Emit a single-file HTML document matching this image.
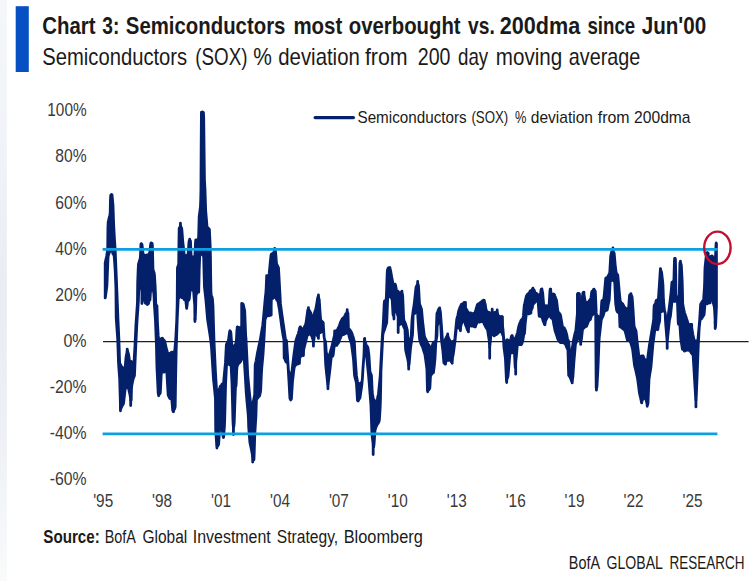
<!DOCTYPE html>
<html lang="en"><head><meta charset="utf-8"><title>Chart 3: Semiconductors most overbought vs. 200dma since Jun'00</title>
<style>
html,body{margin:0;padding:0;background:#fff;}
body{width:755px;height:581px;overflow:hidden;font-family:"Liberation Sans",sans-serif;}
svg{display:block}
text{font-family:"Liberation Sans",sans-serif;fill:#1a1a1a}
.ax text{font-size:17.8px;fill:#3a3a3a}
</style></head><body>
<svg width="755" height="581" viewBox="0 0 755 581">
<rect x="0" y="0" width="755" height="581" fill="#ffffff"/>
<defs><linearGradient id="lb" x1="0" y1="0" x2="0" y2="1"><stop offset="0" stop-color="#f5f6f9"/><stop offset="0.25" stop-color="#f2f3f8"/><stop offset="0.5" stop-color="#e9ecf1"/><stop offset="0.75" stop-color="#eff0f5"/><stop offset="1" stop-color="#f9fafa"/></linearGradient></defs>
<rect x="0" y="0" width="6.9" height="581" fill="url(#lb)"/>
<rect x="15.7" y="6.2" width="13.1" height="65.8" fill="#0650c4"/>
<text x="42.3" y="33.5" font-size="24.5" font-weight="bold" fill="#000" textLength="53.3" lengthAdjust="spacingAndGlyphs">Chart</text><text x="102.2" y="33.5" font-size="24.5" font-weight="bold" fill="#000" textLength="17.1" lengthAdjust="spacingAndGlyphs">3:</text><text x="125.8" y="33.5" font-size="24.5" font-weight="bold" fill="#000" textLength="159.6" lengthAdjust="spacingAndGlyphs">Semiconductors</text><text x="293.4" y="33.5" font-size="24.5" font-weight="bold" fill="#000" textLength="48.8" lengthAdjust="spacingAndGlyphs">most</text><text x="348.8" y="33.5" font-size="24.5" font-weight="bold" fill="#000" textLength="111.8" lengthAdjust="spacingAndGlyphs">overbought</text><text x="468.1" y="33.5" font-size="24.5" font-weight="bold" fill="#000" textLength="26.7" lengthAdjust="spacingAndGlyphs">vs.</text><text x="499.8" y="33.5" font-size="24.5" font-weight="bold" fill="#000" textLength="80.5" lengthAdjust="spacingAndGlyphs">200dma</text><text x="587.4" y="33.5" font-size="24.5" font-weight="bold" fill="#000" textLength="47.8" lengthAdjust="spacingAndGlyphs">since</text><text x="641.7" y="33.5" font-size="24.5" font-weight="bold" fill="#000" textLength="64.5" lengthAdjust="spacingAndGlyphs">Jun'00</text>
<text x="42.3" y="65" font-size="24" fill="#262626" textLength="144.9" lengthAdjust="spacingAndGlyphs">Semiconductors</text><text x="195.3" y="65" font-size="24" fill="#262626" textLength="52.3" lengthAdjust="spacingAndGlyphs">(SOX)</text><text x="253.2" y="65" font-size="24" fill="#262626" textLength="18.6" lengthAdjust="spacingAndGlyphs">%</text><text x="278.3" y="65" font-size="24" fill="#262626" textLength="81.5" lengthAdjust="spacingAndGlyphs">deviation</text><text x="364.9" y="65" font-size="24" fill="#262626" textLength="42.8" lengthAdjust="spacingAndGlyphs">from</text><text x="417.8" y="65" font-size="24" fill="#262626" textLength="32.7" lengthAdjust="spacingAndGlyphs">200</text><text x="458.0" y="65" font-size="24" fill="#262626" textLength="30.2" lengthAdjust="spacingAndGlyphs">day</text><text x="495.8" y="65" font-size="24" fill="#262626" textLength="66.4" lengthAdjust="spacingAndGlyphs">moving</text><text x="568.8" y="65" font-size="24" fill="#262626" textLength="71.4" lengthAdjust="spacingAndGlyphs">average</text>
<g class="ax"><text x="47.3" y="116.3" textLength="39.3" lengthAdjust="spacingAndGlyphs">100%</text><text x="55.2" y="162.4" textLength="31.4" lengthAdjust="spacingAndGlyphs">80%</text><text x="55.2" y="208.5" textLength="31.4" lengthAdjust="spacingAndGlyphs">60%</text><text x="55.2" y="254.6" textLength="31.4" lengthAdjust="spacingAndGlyphs">40%</text><text x="55.2" y="300.7" textLength="31.4" lengthAdjust="spacingAndGlyphs">20%</text><text x="63.4" y="346.8" textLength="23.2" lengthAdjust="spacingAndGlyphs">0%</text><text x="49.8" y="392.9" textLength="36.8" lengthAdjust="spacingAndGlyphs">-20%</text><text x="49.8" y="439.0" textLength="36.8" lengthAdjust="spacingAndGlyphs">-40%</text><text x="49.8" y="485.1" textLength="36.8" lengthAdjust="spacingAndGlyphs">-60%</text><text x="93.2" y="507.4" textLength="20" lengthAdjust="spacingAndGlyphs">'95</text><text x="152.1" y="507.4" textLength="20" lengthAdjust="spacingAndGlyphs">'98</text><text x="211.1" y="507.4" textLength="20" lengthAdjust="spacingAndGlyphs">'01</text><text x="270.0" y="507.4" textLength="20" lengthAdjust="spacingAndGlyphs">'04</text><text x="328.9" y="507.4" textLength="20" lengthAdjust="spacingAndGlyphs">'07</text><text x="387.8" y="507.4" textLength="20" lengthAdjust="spacingAndGlyphs">'10</text><text x="446.8" y="507.4" textLength="20" lengthAdjust="spacingAndGlyphs">'13</text><text x="505.7" y="507.4" textLength="20" lengthAdjust="spacingAndGlyphs">'16</text><text x="564.6" y="507.4" textLength="20" lengthAdjust="spacingAndGlyphs">'19</text><text x="623.6" y="507.4" textLength="20" lengthAdjust="spacingAndGlyphs">'22</text><text x="682.5" y="507.4" textLength="20" lengthAdjust="spacingAndGlyphs">'25</text></g>
<line x1="103" y1="341.6" x2="748.6" y2="341.6" stroke="#1f1f1f" stroke-width="1.4"/>
<path d="M105.19,262.9L105.44,261.7L105.69,260.5L105.94,259.4L106.19,258.2L106.44,257.1L106.69,255.8L106.94,254.2L107.19,252.6L107.44,251.1L107.69,249.5L107.94,227.2L108.19,222.1L108.44,221.1L108.69,220.0L108.94,218.9L109.19,217.9L109.44,216.9L109.69,216.0L109.94,215.1L110.19,212.7L110.44,200.8L110.69,195.3L110.94,195.0L111.19,194.7L111.44,194.5L111.69,194.5L111.94,194.7L112.19,196.5L112.44,199.3L112.69,202.1L112.94,204.9L113.19,211.0L113.44,218.6L113.69,225.3L113.94,229.9L114.19,234.5L114.44,239.0L114.69,243.2L114.94,246.6L115.19,250.0L115.44,256.2L115.69,262.5L115.94,268.8L116.19,274.9L116.44,280.9L116.69,287.0L116.94,293.0L117.19,299.4L117.44,305.9L117.69,312.4L117.94,318.9L118.19,324.5L118.44,329.9L118.69,335.3L118.94,340.6L119.19,349.1L119.44,358.1L119.69,363.3L119.94,363.8L120.19,364.2L120.44,364.6L120.69,365.0L120.94,365.5L121.19,366.1L121.44,366.7L121.69,367.2L121.94,367.8L122.19,368.3L122.44,368.3L122.69,368.4L122.94,368.3L123.19,368.2L123.44,368.0L123.69,368.1L123.94,368.2L124.19,368.2L124.44,368.2L124.69,368.1L124.94,367.9L125.19,366.6L125.44,363.8L125.69,361.0L125.94,358.2L126.19,356.3L126.44,355.1L126.69,353.9L126.94,352.7L127.19,351.5L127.44,350.7L127.69,351.5L127.94,352.3L128.19,353.1L128.44,353.9L128.69,355.3L128.94,357.0L129.19,358.6L129.44,360.2L129.69,361.0L129.94,361.5L130.19,361.4L130.44,361.4L130.69,361.4L130.94,361.4L131.19,361.3L131.44,361.6L131.69,362.0L131.94,362.3L132.19,362.6L132.44,362.8L132.69,362.9L132.94,363.0L133.19,363.1L133.44,363.1L133.69,363.0L133.94,362.7L134.19,359.4L134.44,355.1L134.69,350.8L134.94,346.5L135.19,341.1L135.44,335.7L135.69,330.4L135.94,325.0L136.19,321.1L136.44,317.5L136.69,313.9L136.94,310.2L137.19,306.5L137.44,302.9L137.69,282.6L137.94,275.9L138.19,269.2L138.44,264.2L138.69,263.4L138.94,262.6L139.19,261.8L139.44,261.0L139.69,260.1L139.94,259.3L140.19,258.5L140.44,256.0L140.69,250.0L140.94,244.1L141.19,243.6L141.44,243.8L141.69,244.1L141.94,244.5L142.19,246.2L142.44,248.5L142.69,250.9L142.94,253.2L143.19,254.1L143.44,254.4L143.69,254.5L143.94,254.7L144.19,254.8L144.44,255.0L144.69,255.2L144.94,255.4L145.19,255.6L145.44,255.7L145.69,255.7L145.94,255.6L146.19,255.5L146.44,255.3L146.69,255.1L146.94,255.0L147.19,254.9L147.44,254.9L147.69,254.9L147.94,254.9L148.19,254.9L148.44,254.6L148.69,254.4L148.94,254.2L149.19,254.0L149.44,253.6L149.69,252.0L149.94,250.0L150.19,248.1L150.44,246.1L150.69,244.2L150.94,243.0L151.19,242.9L151.44,242.8L151.69,243.1L151.94,243.5L152.19,243.7L152.44,247.1L152.69,258.0L152.94,268.8L153.19,270.2L153.44,270.9L153.69,271.6L153.94,272.4L154.19,273.2L154.44,275.2L154.69,279.2L154.94,283.2L155.19,287.2L155.44,293.5L155.69,303.4L155.94,304.5L156.19,305.0L156.44,305.3L156.69,305.5L156.94,305.7L157.19,313.6L157.44,322.5L157.69,326.9L157.94,331.3L158.19,335.7L158.44,337.9L158.69,338.3L158.94,338.5L159.19,338.6L159.44,338.8L159.69,338.8L159.94,338.8L160.19,338.9L160.44,338.9L160.69,338.9L160.94,338.9L161.19,338.9L161.44,338.7L161.69,338.5L161.94,338.3L162.19,338.1L162.44,338.3L162.69,338.7L162.94,339.1L163.19,339.6L163.44,340.0L163.69,340.4L163.94,340.5L164.19,340.5L164.44,340.8L164.69,341.5L164.94,342.3L165.19,343.3L165.44,344.5L165.69,345.7L165.94,346.9L166.19,348.1L166.44,349.2L166.69,349.9L166.94,350.7L167.19,351.5L167.44,352.2L167.69,352.9L167.94,353.3L168.19,353.5L168.44,353.6L168.69,353.7L168.94,353.7L169.19,353.7L169.44,353.8L169.69,353.7L169.94,353.6L170.19,353.5L170.44,353.3L170.69,353.0L170.94,352.8L171.19,352.6L171.44,352.3L171.69,352.1L171.94,352.2L172.19,352.3L172.44,352.4L172.69,352.5L172.94,352.5L173.19,352.4L173.44,352.3L173.69,352.1L173.94,351.9L174.19,351.6L174.44,351.5L174.69,351.1L174.94,348.7L175.19,345.7L175.44,342.8L175.69,340.0L175.94,335.5L176.19,330.8L176.44,326.0L176.69,321.2L176.94,313.3L177.19,304.9L177.44,267.9L177.69,267.1L177.94,266.3L178.19,265.6L178.44,264.9L178.69,264.2L178.94,243.1L179.19,228.3L179.44,227.8L179.69,227.4L179.94,226.9L180.19,226.4L180.44,225.9L180.69,226.6L180.94,227.1L181.19,227.5L181.44,228.0L181.69,228.5L181.94,231.0L182.19,234.2L182.44,237.5L182.69,240.7L182.94,243.1L183.19,245.2L183.44,247.6L183.69,250.0L183.94,252.4L184.19,254.5L184.44,254.9L184.69,255.2L184.94,255.5L185.19,255.7L185.44,255.8L185.69,255.9L185.94,255.9L186.19,255.8L186.44,255.6L186.69,255.5L186.94,255.3L187.19,255.2L187.44,255.4L187.69,255.4L187.94,255.4L188.19,253.5L188.44,250.0L188.69,246.2L188.94,242.5L189.19,241.0L189.44,240.7L189.69,240.4L189.94,240.5L190.19,240.7L190.44,240.9L190.69,245.6L190.94,252.3L191.19,256.6L191.44,256.8L191.69,256.9L191.94,256.9L192.19,256.8L192.44,256.8L192.69,256.9L192.94,257.1L193.19,257.2L193.44,257.3L193.69,257.4L193.94,257.1L194.19,256.8L194.44,256.4L194.69,255.9L194.94,255.3L195.19,250.2L195.44,243.6L195.69,240.0L195.94,239.9L196.19,239.9L196.44,239.9L196.69,239.9L196.94,239.9L197.19,239.8L197.44,239.8L197.69,239.8L197.94,239.8L198.19,239.7L198.44,239.5L198.69,235.1L198.94,225.5L199.19,216.5L199.44,214.6L199.69,212.7L199.94,210.8L200.19,208.9L200.44,207.0L200.69,200.8L200.94,190.7L201.19,144.1L201.44,112.2L201.69,112.2L201.94,112.1L202.19,112.0L202.44,112.0L202.69,112.1L202.94,112.3L203.19,112.4L203.44,112.6L203.69,118.0L203.94,139.1L204.19,160.2L204.44,179.9L204.69,184.3L204.94,188.7L205.19,195.9L205.44,204.2L205.69,210.8L205.94,213.8L206.19,216.8L206.44,219.7L206.69,222.8L206.94,225.9L207.19,226.9L207.44,227.3L207.69,227.6L207.94,227.9L208.19,228.2L208.44,228.4L208.69,228.6L208.94,228.8L209.19,229.0L209.44,230.3L209.69,235.7L209.94,241.1L210.19,246.4L210.44,256.6L210.69,277.2L210.94,292.2L211.19,294.9L211.44,295.7L211.69,296.4L211.94,297.1L212.19,297.7L212.44,299.0L212.69,302.3L212.94,305.5L213.19,314.1L213.44,323.0L213.69,331.3L213.94,339.6L214.19,345.1L214.44,350.5L214.69,355.9L214.94,361.4L215.19,366.9L215.44,371.9L215.69,376.2L215.94,380.5L216.19,384.7L216.44,388.9L216.69,390.0L216.94,390.4L217.19,390.6L217.44,390.6L217.69,390.6L217.94,390.5L218.19,390.4L218.44,390.3L218.69,390.3L218.94,390.1L219.19,389.8L219.44,389.0L219.69,388.1L219.94,387.3L220.19,386.4L220.44,386.1L220.69,386.0L220.94,386.0L221.19,385.6L221.44,385.2L221.69,384.7L221.94,384.3L222.19,383.9L222.44,384.0L222.69,384.2L222.94,384.3L223.19,384.3L223.44,384.2L223.69,381.7L223.94,379.0L224.19,376.2L224.44,373.5L224.69,370.8L224.94,368.2L225.19,365.7L225.44,362.9L225.69,358.0L225.94,353.0L226.19,348.1L226.44,344.1L226.69,343.8L226.94,343.4L227.19,343.0L227.44,342.6L227.69,342.1L227.94,341.6L228.19,341.0L228.44,340.2L228.69,338.6L228.94,336.8L229.19,335.0L229.44,333.2L229.69,331.3L229.94,330.8L230.19,331.1L230.44,331.5L230.69,332.0L230.94,333.6L231.19,337.3L231.44,340.8L231.69,344.1L231.94,345.7L232.19,345.8L232.44,345.8L232.69,345.8L232.94,345.9L233.19,346.1L233.44,346.2L233.69,346.2L233.94,346.2L234.19,346.2L234.44,346.0L234.69,345.7L234.94,345.3L235.19,345.0L235.44,344.4L235.69,343.8L235.94,343.1L236.19,342.5L236.44,339.8L236.69,334.7L236.94,330.1L237.19,329.5L237.44,328.8L237.69,328.2L237.94,327.5L238.19,327.3L238.44,327.3L238.69,327.4L238.94,327.4L239.19,327.5L239.44,327.5L239.69,327.6L239.94,327.6L240.19,327.6L240.44,327.7L240.69,327.6L240.94,327.6L241.19,327.6L241.44,327.5L241.69,327.3L241.94,326.9L242.19,326.3L242.44,319.8L242.69,309.5L242.94,304.0L243.19,304.3L243.44,305.4L243.69,306.5L243.94,307.6L244.19,308.7L244.44,309.7L244.69,310.7L244.94,316.7L245.19,323.3L245.44,329.8L245.69,336.3L245.94,338.0L246.19,343.1L246.44,348.2L246.69,353.3L246.94,358.4L247.19,363.9L247.44,369.4L247.69,374.8L247.94,377.5L248.19,380.2L248.44,382.8L248.69,385.3L248.94,387.8L249.19,390.3L249.44,392.9L249.69,395.4L249.94,397.5L250.19,399.6L250.44,401.7L250.69,403.5L250.94,403.9L251.19,404.2L251.44,404.3L251.69,404.4L251.94,404.5L252.19,404.5L252.44,404.1L252.69,403.6L252.94,403.1L253.19,402.5L253.44,400.9L253.69,399.7L253.94,398.5L254.19,397.3L254.44,396.0L254.69,394.8L254.94,381.1L255.19,364.8L255.44,363.7L255.69,362.7L255.94,361.6L256.19,360.3L256.44,358.8L256.69,357.4L256.94,355.9L257.19,354.5L257.44,353.1L257.69,351.9L257.94,350.7L258.19,349.5L258.44,348.2L258.69,347.0L258.94,345.9L259.19,344.8L259.44,343.7L259.69,342.6L259.94,341.5L260.19,340.1L260.44,338.7L260.69,337.3L260.94,335.8L261.19,334.3L261.44,332.8L261.69,331.4L261.94,329.9L262.19,328.5L262.44,327.0L262.69,325.5L262.94,323.1L263.19,320.6L263.44,318.1L263.69,315.6L263.94,313.0L264.19,310.2L264.44,307.4L264.69,304.6L264.94,301.8L265.19,299.1L265.44,296.7L265.69,294.4L265.94,292.1L266.19,288.1L266.44,281.6L266.69,275.6L266.94,275.6L267.19,275.6L267.44,275.6L267.69,275.6L267.94,275.6L268.19,275.6L268.44,275.5L268.69,275.4L268.94,275.1L269.19,273.7L269.44,271.1L269.69,268.4L269.94,265.8L270.19,263.1L270.44,260.6L270.69,258.2L270.94,255.8L271.19,254.5L271.44,254.1L271.69,253.8L271.94,253.7L272.19,253.7L272.44,253.6L272.69,253.5L272.94,253.5L273.19,253.2L273.44,252.8L273.69,252.5L273.94,252.2L274.19,251.8L274.44,251.0L274.69,250.3L274.94,250.2L275.19,250.4L275.44,250.6L275.69,253.1L275.94,256.4L276.19,259.8L276.44,263.1L276.69,264.3L276.94,264.8L277.19,265.2L277.44,265.7L277.69,266.2L277.94,266.7L278.19,267.2L278.44,267.6L278.69,271.4L278.94,275.9L279.19,280.5L279.44,285.0L279.69,289.7L279.94,294.4L280.19,299.1L280.44,303.9L280.69,305.7L280.94,307.5L281.19,309.4L281.44,311.2L281.69,313.1L281.94,314.9L282.19,316.7L282.44,318.4L282.69,320.2L282.94,321.9L283.19,323.6L283.44,325.3L283.69,327.0L283.94,328.8L284.19,330.6L284.44,332.3L284.69,334.1L284.94,335.8L285.19,337.6L285.44,339.3L285.69,339.6L285.94,339.9L286.19,340.2L286.44,340.7L286.69,344.2L286.94,347.6L287.19,351.1L287.44,354.6L287.69,358.7L287.94,362.8L288.19,366.9L288.44,370.8L288.69,371.4L288.94,372.1L289.19,372.8L289.44,373.4L289.69,373.8L289.94,374.0L290.19,373.8L290.44,373.6L290.69,373.3L290.94,373.0L291.19,372.7L291.44,372.6L291.69,372.4L291.94,372.0L292.19,369.7L292.44,367.5L292.69,365.4L292.94,363.2L293.19,361.1L293.44,359.0L293.69,356.9L293.94,354.7L294.19,352.8L294.44,350.9L294.69,349.1L294.94,347.2L295.19,345.4L295.44,343.7L295.69,342.0L295.94,340.5L296.19,339.8L296.44,339.0L296.69,338.2L296.94,337.4L297.19,336.6L297.44,335.8L297.69,335.1L297.94,334.9L298.19,334.0L298.44,333.0L298.69,332.0L298.94,331.1L299.19,330.0L299.44,328.9L299.69,327.8L299.94,327.3L300.19,327.4L300.44,327.7L300.69,328.0L300.94,328.3L301.19,328.5L301.44,328.8L301.69,328.9L301.94,328.9L302.19,328.8L302.44,328.7L302.69,328.6L302.94,328.5L303.19,328.5L303.44,328.5L303.69,328.4L303.94,328.1L304.19,327.5L304.44,327.0L304.69,326.5L304.94,326.0L305.19,325.4L305.44,324.9L305.69,324.4L305.94,323.4L306.19,321.6L306.44,319.9L306.69,318.1L306.94,316.3L307.19,314.4L307.44,312.6L307.69,310.7L307.94,309.7L308.19,309.3L308.44,309.5L308.69,309.8L308.94,310.1L309.19,310.3L309.44,310.6L309.69,311.0L309.94,311.4L310.19,311.9L310.44,312.3L310.69,312.8L310.94,313.6L311.19,314.4L311.44,315.1L311.69,315.6L311.94,316.0L312.19,316.1L312.44,316.2L312.69,316.2L312.94,316.2L313.19,316.1L313.44,315.7L313.69,315.2L313.94,314.7L314.19,313.8L314.44,312.8L314.69,312.1L314.94,311.4L315.19,310.8L315.44,310.2L315.69,309.6L315.94,308.3L316.19,306.9L316.44,305.4L316.69,304.0L316.94,302.5L317.19,301.0L317.44,299.4L317.69,297.8L317.94,297.1L318.19,296.7L318.44,297.2L318.69,297.9L318.94,298.7L319.19,299.4L319.44,303.1L319.69,307.1L319.94,310.8L320.19,314.4L320.44,318.0L320.69,320.4L320.94,320.4L321.19,320.5L321.44,320.8L321.69,321.1L321.94,321.4L322.19,321.7L322.44,321.9L322.69,322.1L322.94,322.3L323.19,322.5L323.44,326.8L323.69,331.3L323.94,334.6L324.19,337.7L324.44,338.8L324.69,339.9L324.94,340.6L325.19,340.9L325.44,341.3L325.69,343.8L325.94,348.1L326.19,352.2L326.44,352.9L326.69,353.6L326.94,354.3L327.19,354.7L327.44,354.7L327.69,355.0L327.94,355.3L328.19,355.7L328.44,355.9L328.69,356.1L328.94,356.1L329.19,355.8L329.44,355.3L329.69,354.8L329.94,353.5L330.19,352.4L330.44,351.5L330.69,350.6L330.94,349.7L331.19,348.8L331.44,347.9L331.69,346.9L331.94,346.0L332.19,345.0L332.44,344.0L332.69,343.0L332.94,342.0L333.19,340.9L333.44,339.8L333.69,338.7L333.94,337.6L334.19,336.6L334.44,335.8L334.69,330.9L334.94,330.9L335.19,331.0L335.44,330.9L335.69,330.9L335.94,330.8L336.19,330.7L336.44,330.6L336.69,330.5L336.94,330.3L337.19,330.0L337.44,329.7L337.69,329.3L337.94,328.6L338.19,328.1L338.44,327.6L338.69,327.2L338.94,326.7L339.19,326.2L339.44,325.5L339.69,324.7L339.94,323.9L340.19,323.2L340.44,322.5L340.69,321.9L340.94,321.4L341.19,320.9L341.44,320.5L341.69,320.0L341.94,319.5L342.19,319.1L342.44,318.6L342.69,318.4L342.94,318.2L343.19,318.0L343.44,317.8L343.69,317.5L343.94,317.3L344.19,317.1L344.44,316.7L344.69,316.3L344.94,315.7L345.19,315.1L345.44,314.6L345.69,314.0L345.94,313.7L346.19,313.5L346.44,313.3L346.69,313.0L346.94,312.7L347.19,312.3L347.44,312.3L347.69,312.9L347.94,313.4L348.19,320.0L348.44,329.3L348.69,329.4L348.94,329.4L349.19,329.4L349.44,329.4L349.69,329.5L349.94,329.9L350.19,330.3L350.44,330.7L350.69,331.1L350.94,331.5L351.19,331.9L351.44,332.4L351.69,333.0L351.94,333.6L352.19,334.2L352.44,334.8L352.69,335.6L352.94,336.3L353.19,337.3L353.44,338.3L353.69,339.3L353.94,340.3L354.19,340.6L354.44,343.5L354.69,348.7L354.94,354.0L355.19,357.9L355.44,361.6L355.69,365.3L355.94,368.9L356.19,372.6L356.44,375.7L356.69,377.1L356.94,378.5L357.19,379.9L357.44,381.3L357.69,382.4L357.94,383.4L358.19,383.6L358.44,383.6L358.69,383.5L358.94,383.6L359.19,383.7L359.44,383.8L359.69,383.8L359.94,383.8L360.19,383.7L360.44,383.5L360.69,383.2L360.94,383.0L361.19,382.7L361.44,382.5L361.69,382.3L361.94,382.1L362.19,380.5L362.44,377.8L362.69,373.4L362.94,368.9L363.19,365.6L363.44,362.2L363.69,358.8L363.94,355.6L364.19,348.6L364.44,339.4L364.69,340.2L364.94,341.1L365.19,342.0L365.44,342.8L365.69,343.5L365.94,344.1L366.19,344.7L366.44,345.3L366.69,345.8L366.94,346.1L367.19,346.5L367.44,346.9L367.69,347.2L367.94,347.9L368.19,349.7L368.44,351.6L368.69,353.5L368.94,355.8L369.19,359.7L369.44,363.9L369.69,368.0L369.94,371.4L370.19,372.2L370.44,372.9L370.69,373.6L370.94,374.2L371.19,374.9L371.44,375.5L371.69,380.5L371.94,386.1L372.19,391.7L372.44,394.3L372.69,395.5L372.94,396.7L373.19,397.9L373.44,398.9L373.69,400.0L373.94,400.4L374.19,400.5L374.44,400.7L374.69,401.2L374.94,401.6L375.19,401.9L375.44,402.2L375.69,402.4L375.94,402.2L376.19,402.0L376.44,401.7L376.69,400.9L376.94,400.2L377.19,399.2L377.44,398.3L377.69,397.3L377.94,396.3L378.19,395.4L378.44,394.0L378.69,391.5L378.94,389.1L379.19,386.7L379.44,384.2L379.69,381.6L379.94,378.9L380.19,376.2L380.44,372.4L380.69,367.2L380.94,362.2L381.19,357.6L381.44,352.9L381.69,348.3L381.94,343.7L382.19,339.0L382.44,334.8L382.69,331.5L382.94,328.3L383.19,325.0L383.44,320.6L383.69,315.0L383.94,309.5L384.19,303.9L384.44,301.3L384.69,300.9L384.94,300.7L385.19,300.5L385.44,300.3L385.69,300.1L385.94,299.9L386.19,299.4L386.44,295.0L386.69,287.7L386.94,280.5L387.19,273.3L387.44,270.0L387.69,269.3L387.94,268.6L388.19,268.0L388.44,268.0L388.69,267.9L388.94,267.7L389.19,267.6L389.44,267.9L389.69,268.4L389.94,268.9L390.19,269.6L390.44,270.3L390.69,271.0L390.94,272.6L391.19,274.2L391.44,275.6L391.69,276.9L391.94,278.2L392.19,279.5L392.44,280.8L392.69,282.4L392.94,283.1L393.19,283.6L393.44,284.0L393.69,284.4L393.94,284.6L394.19,284.6L394.44,284.5L394.69,284.4L394.94,284.4L395.19,284.3L395.44,284.8L395.69,286.0L395.94,287.3L396.19,288.5L396.44,289.8L396.69,290.8L396.94,291.0L397.19,291.1L397.44,291.1L397.69,291.0L397.94,291.3L398.19,291.7L398.44,292.0L398.69,292.4L398.94,292.7L399.19,293.0L399.44,293.1L399.69,293.2L399.94,293.3L400.19,293.3L400.44,293.2L400.69,293.0L400.94,292.8L401.19,292.4L401.44,292.3L401.69,292.9L401.94,293.3L402.19,293.8L402.44,294.3L402.69,296.2L402.94,302.0L403.19,308.2L403.44,314.4L403.69,319.1L403.94,320.1L404.19,321.1L404.44,321.7L404.69,322.2L404.94,322.7L405.19,323.2L405.44,323.7L405.69,324.4L405.94,325.3L406.19,326.2L406.44,327.1L406.69,328.0L406.94,328.7L407.19,329.3L407.44,332.2L407.69,335.3L407.94,338.3L408.19,338.8L408.44,339.1L408.69,339.1L408.94,339.2L409.19,339.1L409.44,339.0L409.69,339.1L409.94,339.2L410.19,339.2L410.44,339.2L410.69,339.0L410.94,338.7L411.19,336.7L411.44,331.7L411.69,326.8L411.94,321.8L412.19,318.2L412.44,316.3L412.69,314.4L412.94,312.5L413.19,310.6L413.44,308.9L413.69,307.4L413.94,305.8L414.19,304.1L414.44,302.0L414.69,299.9L414.94,297.5L415.19,295.1L415.44,292.7L415.69,290.3L415.94,287.9L416.19,286.7L416.44,286.3L416.69,285.9L416.94,285.5L417.19,285.1L417.44,284.6L417.69,283.9L417.94,284.3L418.19,284.9L418.44,285.5L418.69,288.9L418.94,293.7L419.19,298.4L419.44,303.1L419.69,304.6L419.94,305.0L420.19,305.8L420.44,306.5L420.69,307.2L420.94,307.9L421.19,308.5L421.44,308.9L421.69,311.2L421.94,314.0L422.19,316.9L422.44,319.8L422.69,322.2L422.94,324.3L423.19,326.5L423.44,328.7L423.69,330.8L423.94,332.8L424.19,334.7L424.44,336.7L424.69,337.3L424.94,337.7L425.19,338.2L425.44,338.6L425.69,339.1L425.94,339.6L426.19,340.1L426.44,340.6L426.69,341.1L426.94,341.6L427.19,342.2L427.44,343.0L427.69,343.7L427.94,344.0L428.19,344.3L428.44,344.6L428.69,344.9L428.94,345.2L429.19,346.0L429.44,346.8L429.69,347.4L429.94,347.8L430.19,348.1L430.44,348.1L430.69,348.1L430.94,347.9L431.19,347.8L431.44,347.6L431.69,347.3L431.94,346.8L432.19,346.0L432.44,345.1L432.69,344.3L432.94,343.6L433.19,343.1L433.44,342.6L433.69,342.1L433.94,342.1L434.19,342.2L434.44,342.0L434.69,341.9L434.94,341.7L435.19,341.5L435.44,341.2L435.69,341.0L435.94,340.5L436.19,333.6L436.44,326.8L436.69,319.9L436.94,313.5L437.19,312.9L437.44,312.3L437.69,311.7L437.94,311.0L438.19,310.4L438.44,309.8L438.69,309.2L438.94,308.8L439.19,308.4L439.44,308.8L439.69,309.5L439.94,310.3L440.19,311.0L440.44,312.5L440.69,316.2L440.94,319.3L441.19,322.5L441.44,325.8L441.69,329.5L441.94,333.1L442.19,337.1L442.44,339.7L442.69,340.0L442.94,340.2L443.19,340.3L443.44,340.5L443.69,340.8L443.94,341.1L444.19,341.3L444.44,341.4L444.69,341.2L444.94,340.7L445.19,340.0L445.44,339.3L445.69,338.7L445.94,338.1L446.19,337.7L446.44,337.2L446.69,336.7L446.94,336.2L447.19,335.8L447.44,335.5L447.69,335.6L447.94,336.3L448.19,337.0L448.44,337.8L448.69,338.3L448.94,338.8L449.19,339.3L449.44,339.8L449.69,340.3L449.94,340.8L450.19,341.2L450.44,341.5L450.69,341.8L450.94,342.1L451.19,342.2L451.44,342.1L451.69,342.0L451.94,341.9L452.19,341.8L452.44,341.7L452.69,341.6L452.94,341.4L453.19,341.3L453.44,341.2L453.69,341.1L453.94,340.9L454.19,340.7L454.44,340.3L454.69,339.9L454.94,338.2L455.19,335.5L455.44,332.9L455.69,330.2L455.94,327.5L456.19,324.8L456.44,322.3L456.69,319.8L456.94,318.5L457.19,317.7L457.44,317.0L457.69,316.0L457.94,314.8L458.19,313.6L458.44,312.3L458.69,311.1L458.94,310.2L459.19,309.6L459.44,308.9L459.69,308.2L459.94,307.5L460.19,306.9L460.44,306.4L460.69,305.8L460.94,305.3L461.19,304.8L461.44,304.2L461.69,304.1L461.94,304.2L462.19,304.3L462.44,304.4L462.69,304.5L462.94,304.2L463.19,303.7L463.44,303.3L463.69,302.9L463.94,302.5L464.19,302.4L464.44,302.5L464.69,303.8L464.94,305.4L465.19,307.0L465.44,308.4L465.69,309.2L465.94,309.3L466.19,309.3L466.44,309.3L466.69,309.5L466.94,310.1L467.19,310.7L467.44,311.3L467.69,311.9L467.94,312.5L468.19,312.6L468.44,312.7L468.69,312.8L468.94,312.9L469.19,313.0L469.44,313.1L469.69,313.1L469.94,313.1L470.19,312.9L470.44,312.8L470.69,312.9L470.94,313.3L471.19,313.6L471.44,313.9L471.69,314.3L471.94,314.4L472.19,314.2L472.44,314.0L472.69,313.7L472.94,313.5L473.19,313.4L473.44,313.5L473.69,313.6L473.94,313.6L474.19,313.7L474.44,313.6L474.69,313.2L474.94,312.4L475.19,311.7L475.44,310.9L475.69,310.2L475.94,309.4L476.19,308.5L476.44,307.7L476.69,306.9L476.94,306.0L477.19,305.3L477.44,304.6L477.69,304.3L477.94,304.1L478.19,304.0L478.44,303.8L478.69,303.7L478.94,303.5L479.19,303.4L479.44,303.2L479.69,303.1L479.94,302.9L480.19,302.7L480.44,302.6L480.69,302.4L480.94,302.2L481.19,302.0L481.44,301.8L481.69,301.5L481.94,301.3L482.19,301.1L482.44,300.9L482.69,300.7L482.94,300.5L483.19,300.4L483.44,300.2L483.69,300.2L483.94,300.5L484.19,301.3L484.44,302.1L484.69,302.9L484.94,303.4L485.19,304.2L485.44,305.9L485.69,307.6L485.94,309.2L486.19,310.2L486.44,310.7L486.69,311.0L486.94,311.4L487.19,311.7L487.44,312.0L487.69,312.0L487.94,312.0L488.19,312.1L488.44,312.1L488.69,312.1L488.94,312.3L489.19,312.5L489.44,312.7L489.69,312.8L489.94,312.9L490.19,313.1L490.44,313.3L490.69,313.4L490.94,313.5L491.19,313.5L491.44,313.4L491.69,313.1L491.94,312.6L492.19,312.0L492.44,312.2L492.69,312.8L492.94,313.3L493.19,313.5L493.44,313.5L493.69,313.4L493.94,313.3L494.19,313.2L494.44,313.0L494.69,312.8L494.94,312.5L495.19,312.2L495.44,312.3L495.69,312.4L495.94,312.4L496.19,312.4L496.44,312.5L496.69,312.1L496.94,312.6L497.19,313.1L497.44,313.6L497.69,314.1L497.94,314.8L498.19,315.3L498.44,315.6L498.69,315.9L498.94,316.2L499.19,316.4L499.44,316.5L499.69,316.5L499.94,316.6L500.19,316.6L500.44,316.7L500.69,316.8L500.94,317.0L501.19,317.1L501.44,317.2L501.69,319.2L501.94,321.2L502.19,323.2L502.44,325.2L502.69,327.2L502.94,329.2L503.19,332.1L503.44,335.0L503.69,337.9L503.94,340.8L504.19,341.1L504.44,341.2L504.69,341.3L504.94,341.3L505.19,341.2L505.44,341.1L505.69,341.0L505.94,341.0L506.19,341.0L506.44,340.8L506.69,340.6L506.94,340.2L507.19,339.7L507.44,339.9L507.69,340.1L507.94,340.3L508.19,340.5L508.44,340.7L508.69,340.8L508.94,340.9L509.19,340.9L509.44,340.9L509.69,340.8L509.94,340.6L510.19,340.3L510.44,339.9L510.69,339.1L510.94,338.3L511.19,337.3L511.44,336.4L511.69,335.9L511.94,336.2L512.19,336.5L512.44,337.1L512.69,337.6L512.94,338.1L513.19,338.4L513.44,338.7L513.69,338.9L513.94,339.0L514.19,339.1L514.44,339.2L514.69,339.2L514.94,339.1L515.19,338.9L515.44,338.5L515.69,337.8L515.94,337.1L516.19,336.4L516.44,335.8L516.69,335.1L516.94,334.5L517.19,333.9L517.44,333.1L517.69,331.8L517.94,330.5L518.19,329.2L518.44,328.0L518.69,326.8L518.94,325.9L519.19,325.0L519.44,324.2L519.69,323.3L519.94,322.8L520.19,322.3L520.44,321.8L520.69,321.2L520.94,320.7L521.19,320.2L521.44,319.9L521.69,319.6L521.94,319.3L522.19,319.1L522.44,318.8L522.69,318.3L522.94,317.7L523.19,317.1L523.44,315.4L523.69,312.2L523.94,309.1L524.19,306.2L524.44,304.1L524.69,303.3L524.94,302.4L525.19,301.4L525.44,300.3L525.69,299.1L525.94,298.0L526.19,296.8L526.44,296.0L526.69,295.6L526.94,295.2L527.19,294.8L527.44,294.5L527.69,294.1L527.94,293.9L528.19,293.8L528.44,293.6L528.69,293.5L528.94,293.4L529.19,292.9L529.44,292.4L529.69,292.0L529.94,291.5L530.19,291.0L530.44,290.7L530.69,290.6L530.94,290.6L531.19,290.6L531.44,290.6L531.69,290.5L531.94,290.1L532.19,289.7L532.44,289.3L532.69,288.9L532.94,289.0L533.19,289.3L533.44,289.5L533.69,289.8L533.94,290.0L534.19,290.2L534.44,290.8L534.69,291.6L534.94,292.2L535.19,292.8L535.44,293.3L535.69,293.5L535.94,293.4L536.19,293.4L536.44,293.4L536.69,293.4L536.94,293.7L537.19,294.1L537.44,294.6L537.69,295.2L537.94,295.7L538.19,296.1L538.44,295.9L538.69,295.7L538.94,295.4L539.19,295.1L539.44,294.7L539.69,294.8L539.94,294.9L540.19,294.8L540.44,293.5L540.69,292.3L540.94,290.7L541.19,289.3L541.44,289.7L541.69,290.2L541.94,290.6L542.19,291.2L542.44,291.9L542.69,292.9L542.94,296.0L543.19,299.0L543.44,302.2L543.69,304.9L543.94,305.5L544.19,305.9L544.44,306.3L544.69,306.5L544.94,306.4L545.19,306.2L545.44,306.0L545.69,305.8L545.94,305.6L546.19,305.7L546.44,305.8L546.69,305.8L546.94,305.9L547.19,306.0L547.44,306.0L547.69,306.0L547.94,306.1L548.19,306.0L548.44,305.9L548.69,305.6L548.94,305.0L549.19,303.8L549.44,299.6L549.69,295.3L549.94,291.3L550.19,289.1L550.44,290.0L550.69,290.9L550.94,291.8L551.19,292.6L551.44,293.3L551.69,293.8L551.94,294.2L552.19,294.4L552.44,294.6L552.69,294.5L552.94,294.3L553.19,294.2L553.44,294.1L553.69,294.0L553.94,294.2L554.19,294.5L554.44,294.8L554.69,295.2L554.94,296.1L555.19,296.8L555.44,297.5L555.69,298.1L555.94,298.8L556.19,299.4L556.44,300.2L556.69,301.7L556.94,303.7L557.19,305.8L557.44,307.8L557.69,309.8L557.94,311.4L558.19,312.8L558.44,312.8L558.69,312.8L558.94,312.7L559.19,313.1L559.44,313.5L559.69,313.9L559.94,314.3L560.19,314.7L560.44,315.0L560.69,316.0L560.94,317.6L561.19,319.2L561.44,320.8L561.69,322.3L561.94,323.8L562.19,325.3L562.44,326.8L562.69,327.4L562.94,327.6L563.19,327.7L563.44,327.7L563.69,327.7L563.94,327.7L564.19,327.8L564.44,328.3L564.69,328.9L564.94,329.4L565.19,329.9L565.44,330.4L565.69,331.0L565.94,331.9L566.19,332.8L566.44,333.7L566.69,334.6L566.94,335.8L567.19,337.2L567.44,338.5L567.69,339.4L567.94,340.1L568.19,340.6L568.44,341.0L568.69,342.2L568.94,344.7L569.19,347.2L569.44,349.8L569.69,350.0L569.94,350.0L570.19,350.0L570.44,350.0L570.69,349.9L570.94,350.1L571.19,350.3L571.44,350.4L571.69,350.4L571.94,350.3L572.19,349.2L572.44,347.5L572.69,345.7L572.94,344.0L573.19,342.2L573.44,340.6L573.69,339.4L573.94,338.3L574.19,337.1L574.44,335.9L574.69,334.9L574.94,333.8L575.19,332.8L575.44,331.8L575.69,330.8L575.94,329.6L576.19,326.9L576.44,324.2L576.69,321.4L576.94,318.6L577.19,315.9L577.44,312.6L577.69,308.0L577.94,303.4L578.19,298.8L578.44,294.2L578.69,294.6L578.94,296.5L579.19,298.5L579.44,300.1L579.69,300.4L579.94,300.7L580.19,301.0L580.44,301.2L580.69,301.4L580.94,301.5L581.19,301.5L581.44,301.3L581.69,301.0L581.94,300.6L582.19,298.6L582.44,296.5L582.69,294.5L582.94,292.9L583.19,292.6L583.44,293.2L583.69,294.1L583.94,295.1L584.19,296.0L584.44,297.1L584.69,298.7L584.94,300.2L585.19,301.7L585.44,302.6L585.69,302.9L585.94,303.0L586.19,303.1L586.44,303.0L586.69,303.0L586.94,302.8L587.19,302.7L587.44,302.4L587.69,302.3L587.94,302.1L588.19,302.0L588.44,301.8L588.69,301.7L588.94,301.4L589.19,301.0L589.44,300.6L589.69,300.2L589.94,299.8L590.19,299.4L590.44,299.1L590.69,298.9L590.94,298.0L591.19,296.1L591.44,294.2L591.69,292.4L591.94,291.3L592.19,291.2L592.44,291.1L592.69,291.1L592.94,290.6L593.19,290.1L593.44,289.6L593.69,289.2L593.94,289.2L594.19,289.4L594.44,289.9L594.69,290.3L594.94,290.7L595.19,291.1L595.44,294.4L595.69,300.4L595.94,306.4L596.19,312.4L596.44,315.3L596.69,315.6L596.94,315.7L597.19,315.8L597.44,315.9L597.69,316.0L597.94,316.1L598.19,316.5L598.44,316.8L598.69,317.1L598.94,317.3L599.19,317.4L599.44,317.6L599.69,317.8L599.94,317.9L600.19,317.9L600.44,317.9L600.69,317.5L600.94,315.0L601.19,310.7L601.44,306.5L601.69,302.3L601.94,300.6L602.19,300.5L602.44,300.4L602.69,300.3L602.94,300.2L603.19,300.1L603.44,299.9L603.69,299.6L603.94,297.8L604.19,295.4L604.44,292.9L604.69,290.2L604.94,287.4L605.19,284.4L605.44,281.5L605.69,278.6L605.94,277.9L606.19,277.9L606.44,277.9L606.69,277.9L606.94,277.9L607.19,277.6L607.44,277.3L607.69,276.8L607.94,276.3L608.19,275.8L608.44,275.3L608.69,274.9L608.94,274.4L609.19,274.0L609.44,273.6L609.69,273.2L609.94,269.5L610.19,265.0L610.44,260.6L610.69,256.2L610.94,254.9L611.19,253.9L611.44,252.9L611.69,251.9L611.94,251.0L612.19,250.0L612.44,249.2L612.69,249.3L612.94,250.1L613.19,250.9L613.44,251.6L613.69,252.3L613.94,252.7L614.19,253.3L614.44,256.1L614.69,259.0L614.94,262.0L615.19,265.1L615.44,267.2L615.69,269.2L615.94,271.2L616.19,273.0L616.44,273.3L616.69,273.6L616.94,273.9L617.19,274.3L617.44,274.6L617.69,274.9L617.94,277.0L618.19,279.7L618.44,282.5L618.69,285.2L618.94,288.1L619.19,291.0L619.44,293.6L619.69,296.1L619.94,298.7L620.19,300.9L620.44,301.5L620.69,301.9L620.94,302.2L621.19,302.6L621.44,302.9L621.69,303.1L621.94,303.3L622.19,303.5L622.44,303.6L622.69,303.9L622.94,304.4L623.19,304.9L623.44,305.4L623.69,305.9L623.94,306.4L624.19,306.9L624.44,307.2L624.69,307.4L624.94,307.6L625.19,307.8L625.44,308.0L625.69,308.3L625.94,308.5L626.19,308.8L626.44,309.0L626.69,309.3L626.94,309.6L627.19,309.8L627.44,310.1L627.69,310.2L627.94,310.1L628.19,309.6L628.44,308.9L628.69,307.5L628.94,303.7L629.19,300.0L629.44,296.8L629.69,294.9L629.94,295.0L630.19,295.0L630.44,295.1L630.69,294.8L630.94,295.1L631.19,295.5L631.44,295.8L631.69,296.1L631.94,296.3L632.19,298.1L632.44,301.6L632.69,305.1L632.94,308.6L633.19,312.4L633.44,316.5L633.69,320.5L633.94,324.6L634.19,326.7L634.44,327.3L634.69,327.9L634.94,328.4L635.19,329.0L635.44,329.6L635.69,330.2L635.94,330.8L636.19,332.6L636.44,335.2L636.69,337.7L636.94,340.3L637.19,342.5L637.44,344.6L637.69,346.6L637.94,348.6L638.19,350.6L638.44,352.6L638.69,354.5L638.94,356.5L639.19,357.1L639.44,357.5L639.69,357.5L639.94,357.4L640.19,357.2L640.44,356.9L640.69,356.6L640.94,356.4L641.19,356.2L641.44,356.1L641.69,356.0L641.94,355.9L642.19,355.8L642.44,355.8L642.69,355.9L642.94,356.4L643.19,356.8L643.44,357.3L643.69,357.7L643.94,358.1L644.19,358.6L644.44,359.2L644.69,359.7L644.94,360.2L645.19,360.6L645.44,360.9L645.69,361.0L645.94,361.1L646.19,361.0L646.44,360.8L646.69,360.5L646.94,360.2L647.19,359.8L647.44,359.4L647.69,358.0L647.94,356.2L648.19,354.4L648.44,352.6L648.69,350.8L648.94,348.9L649.19,347.0L649.44,345.1L649.69,343.7L649.94,342.3L650.19,340.8L650.44,339.3L650.69,337.8L650.94,336.3L651.19,334.8L651.44,333.3L651.69,331.8L651.94,330.3L652.19,328.8L652.44,327.3L652.69,325.8L652.94,324.3L653.19,322.8L653.44,321.3L653.69,318.4L653.94,309.3L654.19,305.5L654.44,305.1L654.69,304.7L654.94,304.3L655.19,303.8L655.44,303.1L655.69,302.3L655.94,301.5L656.19,300.8L656.44,300.1L656.69,300.2L656.94,300.3L657.19,300.4L657.44,300.4L657.69,300.5L657.94,300.1L658.19,299.6L658.44,298.7L658.69,294.9L658.94,291.2L659.19,287.6L659.44,284.0L659.69,280.0L659.94,276.1L660.19,272.1L660.44,269.5L660.69,270.0L660.94,270.6L661.19,271.1L661.44,271.7L661.69,273.3L661.94,275.5L662.19,277.6L662.44,279.8L662.69,281.9L662.94,285.0L663.19,292.4L663.44,299.7L663.69,303.1L663.94,305.5L664.19,307.9L664.44,310.3L664.69,311.2L664.94,312.0L665.19,312.9L665.44,316.0L665.69,316.4L665.94,316.6L666.19,316.7L666.44,316.8L666.69,316.8L666.94,316.9L667.19,317.0L667.44,317.1L667.69,317.1L667.94,316.9L668.19,315.7L668.44,313.8L668.69,312.0L668.94,310.1L669.19,308.2L669.44,306.4L669.69,304.3L669.94,302.2L670.19,300.1L670.44,298.0L670.69,295.9L670.94,294.0L671.19,291.1L671.44,288.1L671.69,285.2L671.94,282.4L672.19,282.2L672.44,282.0L672.69,281.8L672.94,281.6L673.19,281.4L673.44,281.1L673.69,280.7L673.94,279.3L674.19,270.1L674.44,260.9L674.69,258.5L674.94,259.2L675.19,259.9L675.44,260.6L675.69,272.2L675.94,294.8L676.19,296.7L676.44,296.9L676.69,297.0L676.94,297.0L677.19,296.9L677.44,297.0L677.69,297.1L677.94,297.3L678.19,297.4L678.44,297.5L678.69,297.5L678.94,297.4L679.19,297.2L679.44,286.5L679.69,272.0L679.94,262.9L680.19,262.6L680.44,263.1L680.69,263.6L680.94,264.0L681.19,264.4L681.44,267.2L681.69,272.1L681.94,277.1L682.19,282.1L682.44,291.2L682.69,303.7L682.94,305.1L683.19,306.4L683.44,307.7L683.69,309.0L683.94,310.3L684.19,311.7L684.44,312.6L684.69,313.3L684.94,314.0L685.19,314.7L685.44,315.4L685.69,316.1L685.94,316.8L686.19,317.5L686.44,318.4L686.69,319.1L686.94,319.9L687.19,320.7L687.44,321.5L687.69,322.3L687.94,323.1L688.19,323.9L688.44,324.2L688.69,324.4L688.94,324.4L689.19,324.5L689.44,324.6L689.69,324.7L689.94,324.7L690.19,324.7L690.44,324.5L690.69,324.4L690.94,324.4L691.19,325.4L691.44,326.5L691.69,327.7L691.94,329.0L692.19,330.4L692.44,331.9L692.69,333.4L692.94,334.8L693.19,336.0L693.44,337.1L693.69,338.3L693.94,339.5L694.19,340.6L694.44,340.8L694.69,340.9L694.94,341.0L695.19,340.9L695.44,340.8L695.69,340.9L695.94,341.1L696.19,341.2L696.44,341.3L696.69,341.4L696.94,341.3L697.19,341.1L697.44,340.8L697.69,340.4L697.94,339.4L698.19,336.6L698.44,333.8L698.69,331.1L698.94,328.3L699.19,325.5L699.44,322.7L699.69,319.6L699.94,315.6L700.19,311.5L700.44,307.5L700.69,304.2L700.94,303.8L701.19,303.3L701.44,302.9L701.69,302.4L701.94,302.0L702.19,301.7L702.44,301.3L702.69,301.0L702.94,300.7L703.19,300.4L703.44,299.9L703.69,298.2L703.94,294.7L704.19,291.1L704.44,287.5L704.69,280.9L704.94,269.7L705.19,265.8L705.44,263.7L705.69,261.5L705.94,259.2L706.19,256.7L706.44,254.3L706.69,253.3L706.94,252.9L707.19,252.6L707.44,253.6L707.69,255.0L707.94,256.4L708.19,256.9L708.44,257.4L708.69,257.5L708.94,257.6L709.19,257.6L709.44,257.6L709.69,257.5L709.94,257.3L710.19,257.1L710.44,256.8L710.69,256.5L710.94,256.3L711.19,256.1L711.44,256.1L711.69,256.0L711.94,256.1L712.19,256.6L712.44,257.0L712.69,257.3L712.94,257.5L713.19,257.8L713.44,257.8L713.69,257.9L713.94,258.0L714.19,258.1L714.44,258.1L714.69,258.1L714.94,258.1L715.19,258.1L715.44,257.9L715.69,252.6L715.94,246.2L716.19,243.0L716.44,243.6L716.44,306.4L716.19,312.4L715.94,318.3L715.69,324.2L715.44,326.7L715.19,321.6L714.94,316.5L714.69,311.6L714.44,307.3L714.19,306.4L713.94,305.4L713.69,304.4L713.44,303.5L713.19,302.6L712.94,301.7L712.69,300.9L712.44,300.5L712.19,300.1L711.94,299.7L711.69,299.4L711.44,299.1L711.19,298.9L710.94,298.9L710.69,299.1L710.44,299.3L710.19,299.6L709.94,300.1L709.69,301.1L709.44,302.0L709.19,302.8L708.94,302.7L708.69,302.6L708.44,302.5L708.19,302.7L707.94,303.0L707.69,303.3L707.44,303.5L707.19,303.8L706.94,303.7L706.69,303.6L706.44,303.5L706.19,303.3L705.94,303.3L705.69,303.3L705.44,303.3L705.19,303.5L704.94,304.8L704.69,307.6L704.44,310.5L704.19,313.6L703.94,315.1L703.69,315.3L703.44,315.6L703.19,315.9L702.94,316.4L702.69,316.8L702.44,317.2L702.19,317.7L701.94,318.1L701.69,318.4L701.44,318.6L701.19,318.8L700.94,319.1L700.69,319.3L700.44,319.3L700.19,319.4L699.94,321.0L699.69,323.2L699.44,325.5L699.19,327.9L698.94,332.3L698.69,337.3L698.44,342.4L698.19,347.5L697.94,353.7L697.69,360.4L697.44,367.2L697.19,373.9L696.94,380.2L696.69,386.3L696.44,392.1L696.19,397.9L695.94,400.0L695.69,398.5L695.44,394.1L695.19,389.9L694.94,385.6L694.69,381.4L694.44,377.2L694.19,373.1L693.94,368.9L693.69,364.7L693.44,360.5L693.19,356.4L692.94,354.8L692.69,354.5L692.44,354.2L692.19,354.0L691.94,353.7L691.69,353.5L691.44,353.1L691.19,352.7L690.94,352.3L690.69,351.9L690.44,351.5L690.19,351.2L689.94,351.0L689.69,350.8L689.44,350.6L689.19,350.4L688.94,350.2L688.69,350.1L688.44,350.0L688.19,350.0L687.94,350.0L687.69,350.1L687.44,350.1L687.19,350.0L686.94,350.1L686.69,350.1L686.44,350.3L686.19,350.3L685.94,350.3L685.69,350.3L685.44,350.4L685.19,350.4L684.94,350.5L684.69,350.6L684.44,350.5L684.19,350.3L683.94,350.1L683.69,349.9L683.44,349.7L683.19,349.6L682.94,349.5L682.69,349.3L682.44,349.2L682.19,347.8L681.94,346.1L681.69,344.5L681.44,342.8L681.19,341.2L680.94,339.7L680.69,336.9L680.44,333.2L680.19,329.5L679.94,325.8L679.69,324.4L679.44,324.3L679.19,324.3L678.94,324.3L678.69,324.3L678.44,324.2L678.19,322.0L677.94,314.8L677.69,307.7L677.44,301.4L677.19,300.9L676.94,300.8L676.69,300.7L676.44,300.8L676.19,300.8L675.94,300.9L675.69,301.0L675.44,301.2L675.19,301.3L674.94,301.4L674.69,301.5L674.44,301.4L674.19,301.3L673.94,301.1L673.69,301.0L673.44,300.9L673.19,300.8L672.94,300.8L672.69,300.8L672.44,301.0L672.19,301.2L671.94,301.8L671.69,304.2L671.44,306.6L671.19,309.0L670.94,311.3L670.69,313.7L670.44,315.9L670.19,317.0L669.94,318.1L669.69,319.1L669.44,320.1L669.19,322.5L668.94,324.9L668.69,327.3L668.44,329.7L668.19,332.1L667.94,334.6L667.69,337.1L667.44,339.6L667.19,341.0L666.94,339.1L666.69,336.1L666.44,333.1L666.19,330.0L665.94,327.0L665.69,324.0L665.44,319.6L665.19,312.9L664.94,312.0L664.69,311.2L664.44,310.4L664.19,310.3L663.94,310.4L663.69,310.6L663.44,310.7L663.19,310.8L662.94,311.0L662.69,311.1L662.44,311.2L662.19,311.3L661.94,311.4L661.69,311.5L661.44,311.4L661.19,311.3L660.94,311.1L660.69,311.1L660.44,311.0L660.19,311.3L659.94,311.8L659.69,320.5L659.44,321.6L659.19,322.6L658.94,323.6L658.69,324.5L658.44,325.5L658.19,326.4L657.94,327.3L657.69,328.2L657.44,329.1L657.19,329.6L656.94,329.4L656.69,329.2L656.44,329.1L656.19,328.9L655.94,328.6L655.69,328.5L655.44,328.4L655.19,328.3L654.94,328.8L654.69,330.7L654.44,332.7L654.19,334.7L653.94,336.7L653.69,338.5L653.44,340.2L653.19,341.9L652.94,343.6L652.69,346.5L652.44,349.4L652.19,352.4L651.94,355.3L651.69,358.2L651.44,361.1L651.19,364.0L650.94,367.0L650.69,368.4L650.44,369.9L650.19,371.4L649.94,372.9L649.69,374.6L649.44,376.4L649.19,378.1L648.94,380.1L648.69,386.4L648.44,392.4L648.19,398.3L647.94,403.8L647.69,404.2L647.44,404.7L647.19,404.2L646.94,403.2L646.69,402.3L646.44,401.4L646.19,400.4L645.94,399.6L645.69,399.1L645.44,398.8L645.19,398.6L644.94,398.6L644.69,398.5L644.44,398.4L644.19,398.2L643.94,398.1L643.69,398.1L643.44,398.1L643.19,398.4L642.94,398.8L642.69,399.4L642.44,400.0L642.19,400.6L641.94,401.0L641.69,401.4L641.44,401.8L641.19,400.8L640.94,399.4L640.69,398.2L640.44,397.2L640.19,396.1L639.94,395.1L639.69,394.1L639.44,392.7L639.19,390.8L638.94,388.9L638.69,387.0L638.44,385.1L638.19,383.2L637.94,381.4L637.69,379.6L637.44,378.1L637.19,376.8L636.94,375.6L636.69,374.5L636.44,373.4L636.19,372.3L635.94,371.1L635.69,370.0L635.44,369.0L635.19,368.0L634.94,367.1L634.69,366.1L634.44,364.7L634.19,362.7L633.94,360.5L633.69,358.4L633.44,356.2L633.19,354.0L632.94,351.9L632.69,350.0L632.44,348.6L632.19,347.6L631.94,346.7L631.69,345.8L631.44,345.0L631.19,344.2L630.94,343.3L630.69,342.5L630.44,342.3L630.19,341.6L629.94,341.1L629.69,340.6L629.44,340.2L629.19,339.8L628.94,339.9L628.69,340.1L628.44,340.2L628.19,340.4L627.94,340.6L627.69,340.6L627.44,340.2L627.19,339.2L626.94,338.1L626.69,337.1L626.44,336.1L626.19,335.2L625.94,334.2L625.69,333.3L625.44,332.4L625.19,331.5L624.94,330.7L624.69,330.0L624.44,329.8L624.19,329.6L623.94,329.6L623.69,329.4L623.44,329.2L623.19,329.0L622.94,328.8L622.69,328.6L622.44,328.4L622.19,328.2L621.94,328.0L621.69,327.7L621.44,327.5L621.19,327.3L620.94,327.2L620.69,327.1L620.44,326.9L620.19,326.8L619.94,326.7L619.69,320.2L619.44,313.4L619.19,313.2L618.94,313.0L618.69,312.8L618.44,312.6L618.19,312.4L617.94,312.3L617.69,312.1L617.44,311.9L617.19,311.4L616.94,310.9L616.69,310.4L616.44,308.8L616.19,307.1L615.94,305.4L615.69,303.8L615.44,298.1L615.19,292.5L614.94,286.8L614.69,281.5L614.44,281.3L614.19,281.2L613.94,281.1L613.69,281.0L613.44,280.8L613.19,280.4L612.94,280.1L612.69,279.8L612.44,279.5L612.19,279.4L611.94,279.6L611.69,279.8L611.44,280.1L611.19,280.4L610.94,280.8L610.69,280.9L610.44,280.9L610.19,281.2L609.94,286.0L609.69,290.9L609.44,295.7L609.19,300.1L608.94,301.2L608.69,302.2L608.44,303.3L608.19,304.6L607.94,306.0L607.69,307.4L607.44,308.8L607.19,309.9L606.94,310.1L606.69,310.2L606.44,310.3L606.19,310.4L605.94,310.5L605.69,310.6L605.44,310.7L605.19,310.8L604.94,310.9L604.69,311.1L604.44,311.3L604.19,312.0L603.94,312.9L603.69,313.8L603.44,314.7L603.19,315.6L602.94,316.1L602.69,316.7L602.44,317.2L602.19,317.7L601.94,318.2L601.69,318.7L601.44,319.3L601.19,320.4L600.94,322.6L600.69,324.8L600.44,326.9L600.19,329.1L599.94,331.3L599.69,333.5L599.44,335.6L599.19,337.9L598.94,342.7L598.69,349.1L598.44,355.6L598.19,362.1L597.94,368.5L597.69,373.3L597.44,377.7L597.19,382.2L596.94,386.6L596.69,387.8L596.44,388.2L596.19,387.5L595.94,355.8L595.69,313.8L595.44,313.4L595.19,313.2L594.94,313.0L594.69,313.0L594.44,313.0L594.19,313.0L593.94,313.1L593.69,313.3L593.44,313.6L593.19,313.9L592.94,314.3L592.69,314.6L592.44,314.8L592.19,315.0L591.94,315.2L591.69,315.5L591.44,315.8L591.19,316.5L590.94,317.4L590.69,318.3L590.44,319.2L590.19,319.8L589.94,319.8L589.69,319.7L589.44,319.6L589.19,319.8L588.94,320.2L588.69,320.8L588.44,321.4L588.19,322.1L587.94,322.7L587.69,323.3L587.44,324.0L587.19,324.6L586.94,325.2L586.69,325.8L586.44,326.3L586.19,326.4L585.94,326.5L585.69,326.6L585.44,326.8L585.19,326.9L584.94,327.0L584.69,327.2L584.44,327.4L584.19,327.6L583.94,327.8L583.69,328.0L583.44,328.3L583.19,328.6L582.94,329.0L582.69,329.4L582.44,329.9L582.19,332.0L581.94,334.4L581.69,336.8L581.44,339.2L581.19,340.2L580.94,340.8L580.69,341.4L580.44,340.6L580.19,339.7L579.94,338.7L579.69,338.3L579.44,338.3L579.19,338.4L578.94,338.6L578.69,338.8L578.44,339.0L578.19,339.0L577.94,339.1L577.69,339.2L577.44,339.5L577.19,339.9L576.94,340.5L576.69,341.1L576.44,341.8L576.19,342.4L575.94,343.0L575.69,343.6L575.44,344.1L575.19,347.0L574.94,349.9L574.69,352.8L574.44,355.6L574.19,358.3L573.94,361.3L573.69,364.9L573.44,368.4L573.19,372.0L572.94,376.0L572.69,378.1L572.44,379.2L572.19,380.3L571.94,381.4L571.69,381.4L571.44,380.7L571.19,380.0L570.94,379.3L570.69,378.7L570.44,378.1L570.19,377.6L569.94,377.1L569.69,376.6L569.44,376.1L569.19,375.8L568.94,375.6L568.69,375.4L568.44,368.5L568.19,357.9L567.94,349.9L567.69,349.4L567.44,348.9L567.19,348.3L566.94,347.8L566.69,347.3L566.44,346.6L566.19,346.0L565.94,345.4L565.69,344.7L565.44,344.1L565.19,343.8L564.94,343.5L564.69,343.3L564.44,343.2L564.19,343.2L563.94,343.1L563.69,343.0L563.44,342.9L563.19,342.8L562.94,342.6L562.69,342.6L562.44,342.6L562.19,342.6L561.94,342.6L561.69,342.6L561.44,342.6L561.19,342.5L560.94,342.5L560.69,342.5L560.44,342.5L560.19,342.4L559.94,342.1L559.69,341.8L559.44,341.5L559.19,341.2L558.94,340.9L558.69,340.5L558.44,340.1L558.19,339.6L557.94,339.1L557.69,338.7L557.44,338.0L557.19,337.1L556.94,336.3L556.69,335.5L556.44,334.7L556.19,334.0L555.94,333.3L555.69,332.6L555.44,331.9L555.19,331.2L554.94,330.2L554.69,328.9L554.44,327.6L554.19,326.3L553.94,325.0L553.69,323.7L553.44,322.0L553.19,320.4L552.94,319.5L552.69,319.0L552.44,318.4L552.19,318.3L551.94,318.3L551.69,318.2L551.44,318.1L551.19,318.0L550.94,317.6L550.69,317.1L550.44,316.6L550.19,316.2L549.94,315.7L549.69,315.5L549.44,315.5L549.19,315.6L548.94,315.7L548.69,315.9L548.44,316.0L548.19,316.2L547.94,316.5L547.69,316.8L547.44,317.2L547.19,317.8L546.94,318.2L546.69,318.7L546.44,319.1L546.19,319.6L545.94,320.0L545.69,320.6L545.44,321.3L545.19,322.1L544.94,322.9L544.69,323.8L544.44,324.2L544.19,323.6L543.94,322.9L543.69,322.2L543.44,321.5L543.19,321.1L542.94,320.3L542.69,319.4L542.44,318.5L542.19,317.6L541.94,317.4L541.69,317.2L541.44,317.0L541.19,316.8L540.94,316.6L540.69,316.5L540.44,316.4L540.19,316.4L539.94,316.3L539.69,316.3L539.44,316.2L539.19,316.1L538.94,312.7L538.69,309.3L538.44,305.8L538.19,302.5L537.94,302.0L537.69,301.5L537.44,301.1L537.19,300.8L536.94,300.6L536.69,300.6L536.44,300.6L536.19,300.8L535.94,300.9L535.69,301.1L535.44,301.4L535.19,301.7L534.94,302.1L534.69,302.5L534.44,302.9L534.19,303.2L533.94,303.4L533.69,303.6L533.44,303.8L533.19,304.1L532.94,304.4L532.69,304.9L532.44,307.1L532.19,308.3L531.94,308.5L531.69,308.9L531.44,309.4L531.19,309.8L530.94,310.3L530.69,310.7L530.44,311.1L530.19,312.0L529.94,312.8L529.69,313.1L529.44,313.5L529.19,313.8L528.94,314.0L528.69,313.9L528.44,313.8L528.19,313.7L527.94,313.6L527.69,313.4L527.44,313.3L527.19,313.3L526.94,313.2L526.69,313.3L526.44,313.5L526.19,315.3L525.94,317.3L525.69,319.3L525.44,321.3L525.19,323.4L524.94,327.2L524.69,331.0L524.44,333.6L524.19,333.8L523.94,334.3L523.69,334.9L523.44,336.5L523.19,338.1L522.94,339.7L522.69,340.7L522.44,341.3L522.19,342.0L521.94,342.7L521.69,343.4L521.44,344.0L521.19,344.6L520.94,344.6L520.69,344.6L520.44,344.7L520.19,344.7L519.94,344.7L519.69,344.6L519.44,344.5L519.19,344.5L518.94,344.4L518.69,344.3L518.44,344.3L518.19,344.5L517.94,344.7L517.69,344.9L517.44,345.3L517.19,346.3L516.94,349.3L516.69,352.3L516.44,355.2L516.19,357.7L515.94,360.2L515.69,362.6L515.44,365.0L515.19,367.4L514.94,362.5L514.69,357.3L514.44,352.4L514.19,352.0L513.94,351.8L513.69,351.7L513.44,351.7L513.19,351.9L512.94,352.1L512.69,352.3L512.44,352.6L512.19,352.9L511.94,352.9L511.69,352.8L511.44,352.8L511.19,352.7L510.94,352.6L510.69,352.8L510.44,353.1L510.19,353.3L509.94,353.7L509.69,356.3L509.44,359.1L509.19,362.1L508.94,365.0L508.69,368.0L508.44,370.9L508.19,373.8L507.94,376.4L507.69,377.2L507.44,377.9L507.19,378.6L506.94,379.2L506.69,380.2L506.44,380.1L506.19,374.8L505.94,369.5L505.69,364.2L505.44,358.9L505.19,356.9L504.94,354.9L504.69,352.9L504.44,350.9L504.19,349.1L503.94,347.3L503.69,342.0L503.44,336.3L503.19,335.9L502.94,335.4L502.69,334.8L502.44,334.1L502.19,333.5L501.94,332.8L501.69,332.2L501.44,332.0L501.19,331.7L500.94,331.6L500.69,331.6L500.44,331.6L500.19,331.6L499.94,331.6L499.69,331.6L499.44,331.7L499.19,331.8L498.94,332.1L498.69,332.4L498.44,332.6L498.19,332.9L497.94,333.1L497.69,333.4L497.44,333.6L497.19,333.9L496.94,334.1L496.69,334.3L496.44,334.5L496.19,334.6L495.94,334.7L495.69,334.7L495.44,334.8L495.19,334.9L494.94,335.2L494.69,335.4L494.44,335.7L494.19,335.9L493.94,335.7L493.69,334.9L493.44,334.6L493.19,334.4L492.94,334.2L492.69,334.2L492.44,334.2L492.19,334.2L491.94,334.3L491.69,334.5L491.44,334.7L491.19,335.0L490.94,335.4L490.69,337.7L490.44,340.1L490.19,342.4L489.94,344.9L489.69,347.2L489.44,344.1L489.19,340.2L488.94,338.6L488.69,337.2L488.44,335.5L488.19,333.9L487.94,332.2L487.69,330.6L487.44,329.5L487.19,329.2L486.94,328.9L486.69,328.5L486.44,328.2L486.19,327.8L485.94,327.3L485.69,326.8L485.44,326.3L485.19,325.8L484.94,325.4L484.69,324.9L484.44,324.4L484.19,323.8L483.94,323.3L483.69,322.7L483.44,322.3L483.19,322.0L482.94,321.8L482.69,321.7L482.44,321.6L482.19,321.5L481.94,321.5L481.69,321.5L481.44,321.4L481.19,321.4L480.94,321.4L480.69,321.5L480.44,321.7L480.19,321.8L479.94,322.0L479.69,322.2L479.44,322.0L479.19,321.8L478.94,321.6L478.69,321.4L478.44,321.2L478.19,321.3L477.94,321.5L477.69,321.8L477.44,322.1L477.19,322.6L476.94,323.0L476.69,323.5L476.44,323.9L476.19,324.4L475.94,324.8L475.69,325.2L475.44,325.7L475.19,326.1L474.94,326.6L474.69,326.9L474.44,326.8L474.19,326.6L473.94,326.4L473.69,326.2L473.44,326.0L473.19,325.9L472.94,325.9L472.69,325.9L472.44,326.0L472.19,326.1L471.94,326.2L471.69,326.1L471.44,326.0L471.19,325.9L470.94,325.8L470.69,325.8L470.44,325.7L470.19,325.7L469.94,325.6L469.69,325.7L469.44,325.8L469.19,326.0L468.94,326.7L468.69,327.3L468.44,328.0L468.19,328.7L467.94,329.3L467.69,330.3L467.44,330.1L467.19,329.3L466.94,328.6L466.69,327.8L466.44,327.1L466.19,326.4L465.94,325.8L465.69,325.2L465.44,324.5L465.19,323.7L464.94,322.9L464.69,322.3L464.44,321.9L464.19,321.7L463.94,321.5L463.69,321.4L463.44,321.3L463.19,321.2L462.94,321.2L462.69,321.3L462.44,321.3L462.19,321.6L461.94,322.3L461.69,323.0L461.44,323.7L461.19,324.7L460.94,325.7L460.69,326.8L460.44,327.8L460.19,328.9L459.94,329.4L459.69,328.9L459.44,328.4L459.19,327.9L458.94,327.3L458.69,327.0L458.44,327.1L458.19,327.1L457.94,327.3L457.69,327.5L457.44,327.7L457.19,327.8L456.94,328.0L456.69,328.2L456.44,328.6L456.19,329.3L455.94,331.8L455.69,334.4L455.44,336.7L455.19,339.0L454.94,341.3L454.69,343.3L454.44,345.2L454.19,347.1L453.94,349.0L453.69,351.0L453.44,352.9L453.19,354.6L452.94,355.7L452.69,356.8L452.44,358.0L452.19,359.1L451.94,360.3L451.69,361.5L451.44,361.8L451.19,361.5L450.94,361.2L450.69,360.6L450.44,360.2L450.19,359.8L449.94,359.5L449.69,359.3L449.44,359.5L449.19,359.8L448.94,360.0L448.69,360.2L448.44,360.4L448.19,360.4L447.94,360.3L447.69,360.3L447.44,360.3L447.19,360.3L446.94,360.4L446.69,360.6L446.44,360.9L446.19,361.2L445.94,361.8L445.69,362.4L445.44,363.1L445.19,363.8L444.94,363.9L444.69,363.7L444.44,363.4L444.19,363.2L443.94,362.9L443.69,360.7L443.44,357.7L443.19,354.7L442.94,351.6L442.69,349.4L442.44,347.4L442.19,345.5L441.94,343.5L441.69,341.5L441.44,339.1L441.19,334.0L440.94,329.0L440.69,324.0L440.44,323.6L440.19,323.4L439.94,323.2L439.69,323.1L439.44,323.1L439.19,323.0L438.94,323.0L438.69,323.0L438.44,323.1L438.19,323.4L437.94,323.8L437.69,324.5L437.44,325.2L437.19,325.8L436.94,335.3L436.69,337.2L436.44,338.6L436.19,340.1L435.94,341.6L435.69,344.6L435.44,349.5L435.19,354.7L434.94,359.2L434.69,361.6L434.44,364.1L434.19,366.5L433.94,368.6L433.69,370.6L433.44,372.5L433.19,372.8L432.94,372.9L432.69,373.0L432.44,373.3L432.19,373.5L431.94,373.7L431.69,374.0L431.44,374.3L431.19,374.8L430.94,375.3L430.69,375.8L430.44,376.4L430.19,381.5L429.94,386.5L429.69,388.6L429.44,388.9L429.19,389.2L428.94,389.5L428.69,389.8L428.44,390.0L428.19,390.3L427.94,390.5L427.69,390.4L427.44,389.9L427.19,380.4L426.94,369.5L426.69,367.5L426.44,365.4L426.19,363.5L425.94,361.7L425.69,359.9L425.44,358.1L425.19,356.2L424.94,354.6L424.69,353.9L424.44,353.1L424.19,352.4L423.94,351.7L423.69,350.9L423.44,350.1L423.19,349.2L422.94,348.3L422.69,347.5L422.44,346.6L422.19,346.2L421.94,345.8L421.69,345.3L421.44,344.9L421.19,344.5L420.94,343.7L420.69,342.8L420.44,342.0L420.19,341.1L419.94,340.2L419.69,339.6L419.44,337.5L419.19,334.7L418.94,332.0L418.69,329.3L418.44,325.7L418.19,321.8L417.94,317.8L417.69,313.8L417.44,312.9L417.19,312.4L416.94,312.1L416.69,311.9L416.44,311.8L416.19,311.7L415.94,311.6L415.69,312.0L415.44,312.3L415.19,312.7L414.94,313.1L414.69,313.5L414.44,313.5L414.19,313.5L413.94,313.4L413.69,313.3L413.44,313.3L413.19,313.6L412.94,321.1L412.69,329.9L412.44,335.2L412.19,336.8L411.94,338.4L411.69,340.1L411.44,341.8L411.19,343.4L410.94,345.1L410.69,346.7L410.44,348.7L410.19,351.6L409.94,354.4L409.69,357.3L409.44,360.2L409.19,363.6L408.94,364.8L408.69,365.4L408.44,363.4L408.19,361.4L407.94,359.9L407.69,358.8L407.44,357.7L407.19,356.7L406.94,355.6L406.69,354.5L406.44,353.4L406.19,352.4L405.94,351.3L405.69,350.3L405.44,345.9L405.19,334.6L404.94,328.9L404.69,328.5L404.44,328.2L404.19,327.8L403.94,327.2L403.69,326.6L403.44,326.0L403.19,325.4L402.94,324.8L402.69,324.4L402.44,324.0L402.19,323.6L401.94,323.3L401.69,323.2L401.44,323.2L401.19,323.3L400.94,323.5L400.69,323.7L400.44,323.9L400.19,324.0L399.94,324.1L399.69,324.3L399.44,324.8L399.19,320.1L398.94,317.5L398.69,317.0L398.44,316.6L398.19,316.1L397.94,315.6L397.69,315.1L397.44,314.4L397.19,313.8L396.94,313.1L396.69,312.5L396.44,311.8L396.19,311.6L395.94,311.5L395.69,311.6L395.44,311.7L395.19,311.9L394.94,311.7L394.69,311.4L394.44,311.2L394.19,311.0L393.94,310.9L393.69,311.2L393.44,313.2L393.19,315.3L392.94,313.5L392.69,308.8L392.44,304.1L392.19,299.7L391.94,299.2L391.69,298.6L391.44,298.1L391.19,297.6L390.94,297.4L390.69,297.1L390.44,296.9L390.19,296.8L389.94,296.8L389.69,296.6L389.44,296.4L389.19,296.3L388.94,296.3L388.69,296.3L388.44,296.4L388.19,296.7L387.94,297.2L387.69,297.7L387.44,304.3L387.19,310.8L386.94,317.2L386.69,322.7L386.44,323.5L386.19,324.2L385.94,325.0L385.69,325.8L385.44,326.6L385.19,327.4L384.94,328.2L384.69,329.0L384.44,329.7L384.19,330.3L383.94,331.0L383.69,331.6L383.44,332.3L383.19,333.2L382.94,334.1L382.69,336.8L382.44,341.9L382.19,347.0L381.94,351.8L381.69,356.6L381.44,361.3L381.19,366.1L380.94,370.9L380.69,386.2L380.44,398.9L380.19,406.4L379.94,410.7L379.69,414.9L379.44,419.0L379.19,420.9L378.94,421.5L378.69,422.1L378.44,422.6L378.19,423.2L377.94,423.5L377.69,423.8L377.44,424.1L377.19,424.4L376.94,424.8L376.69,425.5L376.44,426.1L376.19,426.7L375.94,427.3L375.69,427.9L375.44,428.8L375.19,429.6L374.94,430.9L374.69,434.6L374.44,438.4L374.19,442.0L373.94,445.1L373.69,446.7L373.44,446.3L373.19,444.2L372.94,442.3L372.69,440.3L372.44,438.4L372.19,436.4L371.94,434.4L371.69,427.3L371.44,419.9L371.19,412.5L370.94,405.1L370.69,401.8L370.44,398.9L370.19,395.7L369.94,392.6L369.69,389.4L369.44,386.2L369.19,383.0L368.94,380.0L368.69,377.1L368.44,374.2L368.19,371.8L367.94,369.4L367.69,366.9L367.44,364.4L367.19,361.8L366.94,359.3L366.69,356.8L366.44,354.3L366.19,353.9L365.94,353.7L365.69,353.6L365.44,353.5L365.19,353.5L364.94,353.7L364.69,353.9L364.44,354.2L364.19,354.6L363.94,355.6L363.69,358.8L363.44,362.2L363.19,365.6L362.94,368.9L362.69,373.4L362.44,377.8L362.19,380.5L361.94,384.0L361.69,385.8L361.44,387.6L361.19,389.3L360.94,391.0L360.69,392.8L360.44,394.5L360.19,396.2L359.94,397.9L359.69,398.3L359.44,398.6L359.19,399.0L358.94,399.3L358.69,399.6L358.44,399.9L358.19,400.2L357.94,400.5L357.69,400.6L357.44,400.1L357.19,395.7L356.94,391.4L356.69,387.1L356.44,383.3L356.19,382.0L355.94,381.0L355.69,380.0L355.44,379.1L355.19,378.1L354.94,377.1L354.69,376.0L354.44,374.0L354.19,370.0L353.94,366.0L353.69,362.0L353.44,358.5L353.19,356.7L352.94,354.8L352.69,353.0L352.44,351.1L352.19,349.2L351.94,347.4L351.69,345.5L351.44,343.9L351.19,342.9L350.94,341.9L350.69,341.3L350.44,340.6L350.19,339.9L349.94,339.2L349.69,338.5L349.44,337.6L349.19,336.5L348.94,335.5L348.69,334.5L348.44,333.8L348.19,333.4L347.94,333.2L347.69,333.1L347.44,333.1L347.19,333.1L346.94,333.1L346.69,333.1L346.44,333.1L346.19,333.1L345.94,333.1L345.69,333.2L345.44,333.4L345.19,333.6L344.94,333.8L344.69,334.0L344.44,334.2L344.19,334.3L343.94,334.3L343.69,334.4L343.44,334.5L343.19,334.6L342.94,334.5L342.69,334.3L342.44,334.3L342.19,334.3L341.94,334.4L341.69,334.9L341.44,335.5L341.19,336.1L340.94,336.8L340.69,337.4L340.44,337.9L340.19,338.4L339.94,339.0L339.69,339.6L339.44,340.3L339.19,341.0L338.94,341.6L338.69,342.3L338.44,342.9L338.19,343.4L337.94,343.4L337.69,343.8L337.44,344.2L337.19,344.6L336.94,345.0L336.69,345.4L336.44,345.4L336.19,345.3L335.94,345.2L335.69,345.1L335.44,345.0L335.19,345.1L334.94,345.4L334.69,345.7L334.44,346.0L334.19,346.5L333.94,348.1L333.69,350.3L333.44,352.5L333.19,354.6L332.94,355.7L332.69,356.2L332.44,356.3L332.19,356.5L331.94,356.6L331.69,356.7L331.44,356.8L331.19,357.6L330.94,359.8L330.69,362.3L330.44,364.7L330.19,367.2L329.94,369.3L329.69,371.3L329.44,373.3L329.19,375.3L328.94,377.4L328.69,379.5L328.44,381.6L328.19,383.7L327.94,384.7L327.69,383.9L327.44,381.4L327.19,379.1L326.94,376.7L326.69,374.3L326.44,372.0L326.19,369.6L325.94,367.2L325.69,364.7L325.44,359.0L325.19,353.3L324.94,347.6L324.69,339.9L324.44,338.8L324.19,337.7L323.94,334.6L323.69,331.6L323.44,331.2L323.19,330.9L322.94,330.8L322.69,330.7L322.44,330.6L322.19,330.8L321.94,331.0L321.69,331.3L321.44,331.7L321.19,332.0L320.94,332.2L320.69,332.4L320.44,332.5L320.19,332.6L319.94,332.8L319.69,332.9L319.44,332.6L319.19,332.4L318.94,332.3L318.69,332.3L318.44,332.8L318.19,334.0L317.94,335.2L317.69,336.4L317.44,335.8L317.19,334.0L316.94,333.8L316.69,333.9L316.44,334.0L316.19,334.2L315.94,334.4L315.69,334.4L315.44,334.2L315.19,334.1L314.94,334.0L314.69,334.1L314.44,335.3L314.19,337.3L313.94,339.3L313.69,340.8L313.44,341.4L313.19,340.4L312.94,339.6L312.69,338.8L312.44,338.1L312.19,337.3L311.94,336.5L311.69,335.9L311.44,335.5L311.19,335.2L310.94,335.0L310.69,334.7L310.44,334.5L310.19,334.3L309.94,334.2L309.69,334.0L309.44,333.9L309.19,334.0L308.94,334.1L308.69,334.2L308.44,334.4L308.19,334.7L307.94,334.9L307.69,335.0L307.44,335.3L307.19,335.6L306.94,336.5L306.69,337.5L306.44,338.4L306.19,339.4L305.94,340.4L305.69,341.4L305.44,342.4L305.19,343.4L304.94,344.4L304.69,345.3L304.44,346.3L304.19,347.4L303.94,348.5L303.69,349.6L303.44,350.6L303.19,351.7L302.94,352.8L302.69,354.1L302.44,355.3L302.19,355.5L301.94,355.7L301.69,355.9L301.44,356.0L301.19,355.9L300.94,355.9L300.69,356.0L300.44,356.2L300.19,356.7L299.94,357.5L299.69,358.4L299.44,359.3L299.19,360.2L298.94,361.1L298.69,362.4L298.44,363.3L298.19,363.6L297.94,363.9L297.69,364.2L297.44,364.1L297.19,364.0L296.94,363.9L296.69,363.8L296.44,363.8L296.19,364.1L295.94,364.5L295.69,364.9L295.44,365.3L295.19,365.7L294.94,366.0L294.69,366.0L294.44,366.1L294.19,367.4L293.94,369.2L293.69,371.1L293.44,373.3L293.19,375.5L292.94,377.7L292.69,379.9L292.44,382.2L292.19,385.9L291.94,390.0L291.69,394.2L291.44,398.3L291.19,399.3L290.94,399.6L290.69,399.9L290.44,399.4L290.19,398.9L289.94,398.4L289.69,394.1L289.44,389.6L289.19,385.2L288.94,380.7L288.69,376.7L288.44,372.6L288.19,368.4L287.94,364.1L287.69,363.5L287.44,362.9L287.19,362.4L286.94,362.3L286.69,362.2L286.44,362.1L286.19,362.0L285.94,361.9L285.69,361.2L285.44,360.5L285.19,359.8L284.94,359.1L284.69,358.4L284.44,358.3L284.19,358.2L283.94,339.6L283.69,338.5L283.44,337.3L283.19,335.9L282.94,334.4L282.69,332.9L282.44,331.3L282.19,329.8L281.94,328.2L281.69,326.3L281.44,324.5L281.19,322.6L280.94,320.8L280.69,318.9L280.44,317.0L280.19,315.1L279.94,313.2L279.69,311.4L279.44,309.6L279.19,308.2L278.94,306.8L278.69,305.4L278.44,304.0L278.19,302.6L277.94,301.4L277.69,301.0L277.44,300.7L277.19,300.3L276.94,300.0L276.69,299.5L276.44,299.0L276.19,298.4L275.94,297.9L275.69,297.5L275.44,297.2L275.19,297.1L274.94,297.0L274.69,297.0L274.44,297.1L274.19,297.2L273.94,297.4L273.69,297.6L273.44,297.9L273.19,298.1L272.94,298.4L272.69,298.4L272.44,298.4L272.19,298.4L271.94,298.4L271.69,298.4L271.44,298.6L271.19,298.9L270.94,299.3L270.69,304.3L270.44,309.3L270.19,314.5L269.94,314.9L269.69,315.2L269.44,315.5L269.19,315.7L268.94,315.8L268.69,315.7L268.44,315.6L268.19,315.5L267.94,315.3L267.69,315.2L267.44,315.3L267.19,315.4L266.94,315.6L266.69,315.9L266.44,316.2L266.19,316.8L265.94,317.3L265.69,317.8L265.44,318.3L265.19,318.9L264.94,320.2L264.69,325.0L264.44,329.9L264.19,334.7L263.94,339.1L263.69,343.3L263.44,347.3L263.19,351.3L262.94,355.1L262.69,357.8L262.44,360.5L262.19,363.2L261.94,366.0L261.69,368.7L261.44,373.1L261.19,378.4L260.94,383.9L260.69,389.4L260.44,392.0L260.19,393.0L259.94,394.1L259.69,395.2L259.44,396.2L259.19,396.3L258.94,396.5L258.69,396.6L258.44,396.9L258.19,397.3L257.94,397.7L257.69,398.1L257.44,398.5L257.19,398.6L256.94,398.7L256.69,398.8L256.44,399.1L256.19,406.1L255.94,415.3L255.69,419.3L255.44,423.3L255.19,427.3L254.94,431.3L254.69,436.8L254.44,444.8L254.19,452.9L253.94,459.5L253.69,459.8L253.44,459.9L253.19,458.7L252.94,457.4L252.69,456.2L252.44,454.9L252.19,453.7L251.94,452.3L251.69,451.0L251.44,449.7L251.19,448.4L250.94,447.2L250.69,446.0L250.44,444.9L250.19,443.8L249.94,442.7L249.69,439.8L249.44,436.6L249.19,433.3L248.94,430.1L248.69,426.8L248.44,418.0L248.19,414.3L247.94,411.6L247.69,408.9L247.44,406.3L247.19,403.6L246.94,400.9L246.69,397.9L246.44,394.9L246.19,391.8L245.94,387.3L245.69,382.8L245.44,378.6L245.19,374.5L244.94,370.4L244.69,366.3L244.44,362.2L244.19,359.5L243.94,359.1L243.69,358.8L243.44,358.6L243.19,358.5L242.94,358.4L242.69,358.4L242.44,358.4L242.19,358.4L241.94,358.6L241.69,358.9L241.44,359.5L241.19,360.0L240.94,360.6L240.69,361.1L240.44,361.7L240.19,362.0L239.94,362.3L239.69,362.6L239.44,362.9L239.19,363.2L238.94,363.3L238.69,363.5L238.44,363.7L238.19,364.0L237.94,364.2L237.69,364.8L237.44,365.6L237.19,366.4L236.94,367.2L236.69,370.6L236.44,377.2L236.19,383.5L235.94,386.5L235.69,386.7L235.44,387.0L235.19,394.1L234.94,401.2L234.69,408.3L234.44,415.5L234.19,422.6L233.94,425.7L233.69,427.0L233.44,427.2L233.19,425.2L232.94,419.9L232.69,409.7L232.44,399.7L232.19,389.8L231.94,382.0L231.69,377.1L231.44,372.2L231.19,367.4L230.94,364.9L230.69,364.7L230.44,364.7L230.19,364.8L229.94,364.8L229.69,364.5L229.44,364.2L229.19,364.0L228.94,363.7L228.69,363.5L228.44,363.7L228.19,363.9L227.94,364.1L227.69,364.3L227.44,364.6L227.19,364.5L226.94,364.4L226.69,364.5L226.44,366.8L226.19,371.5L225.94,376.5L225.69,381.6L225.44,389.3L225.19,399.3L224.94,409.4L224.69,419.4L224.44,425.8L224.19,429.2L223.94,432.7L223.69,436.2L223.44,436.8L223.19,436.7L222.94,435.4L222.69,433.3L222.44,431.1L222.19,429.0L221.94,428.5L221.69,428.1L221.44,427.9L221.19,427.7L220.94,427.5L220.69,427.7L220.44,427.8L220.19,428.0L219.94,428.3L219.69,428.8L219.44,430.9L219.19,435.0L218.94,439.1L218.69,443.2L218.44,444.8L218.19,445.2L217.94,445.5L217.69,445.8L217.44,446.0L217.19,446.1L216.94,445.8L216.69,444.7L216.44,441.0L216.19,437.3L215.94,433.7L215.69,430.0L215.44,398.4L215.19,395.8L214.94,393.3L214.69,390.7L214.44,388.2L214.19,385.8L213.94,383.4L213.69,381.0L213.44,378.4L213.19,374.5L212.94,370.5L212.69,366.4L212.44,362.4L212.19,358.4L211.94,354.4L211.69,350.2L211.44,346.5L211.19,344.3L210.94,342.2L210.69,340.0L210.44,338.0L210.19,336.3L209.94,334.6L209.69,333.0L209.44,331.3L209.19,329.6L208.94,328.1L208.69,326.5L208.44,324.9L208.19,323.4L207.94,321.8L207.69,320.1L207.44,318.0L207.19,314.9L206.94,311.9L206.69,308.9L206.44,306.0L206.19,303.1L205.94,300.2L205.69,297.8L205.44,295.6L205.19,293.4L204.94,291.3L204.69,289.2L204.44,286.8L204.19,277.6L203.94,268.0L203.69,257.7L203.44,255.9L203.19,255.4L202.94,255.0L202.69,254.7L202.44,254.6L202.19,254.5L201.94,254.5L201.69,254.4L201.44,254.4L201.19,254.3L200.94,254.3L200.69,254.3L200.44,254.3L200.19,254.5L199.94,254.8L199.69,256.4L199.44,263.1L199.19,269.7L198.94,282.2L198.69,292.2L198.44,292.2L198.19,292.2L197.94,292.2L197.69,292.2L197.44,292.4L197.19,292.8L196.94,293.1L196.69,293.5L196.44,294.0L196.19,294.6L195.94,295.7L195.69,305.7L195.44,313.8L195.19,319.0L194.94,318.9L194.69,304.4L194.44,302.2L194.19,298.8L193.94,295.3L193.69,291.9L193.44,290.9L193.19,290.5L192.94,290.3L192.69,290.2L192.44,290.1L192.19,290.0L191.94,289.7L191.69,289.5L191.44,289.3L191.19,289.3L190.94,289.3L190.69,289.5L190.44,289.7L190.19,290.0L189.94,291.8L189.69,294.3L189.44,297.2L189.19,299.4L188.94,299.7L188.69,300.0L188.44,300.4L188.19,300.4L187.94,300.5L187.69,300.8L187.44,301.3L187.19,305.0L186.94,306.3L186.69,307.0L186.44,306.2L186.19,304.2L185.94,302.2L185.69,300.3L185.44,300.0L185.19,299.8L184.94,299.8L184.69,299.8L184.44,299.7L184.19,299.5L183.94,299.3L183.69,297.9L183.44,297.3L183.19,297.0L182.94,297.0L182.69,297.1L182.44,297.2L182.19,297.4L181.94,297.6L181.69,297.4L181.44,297.3L181.19,297.1L180.94,297.0L180.69,296.9L180.44,296.7L180.19,296.6L179.94,296.6L179.69,296.5L179.44,296.6L179.19,297.0L178.94,297.5L178.69,298.0L178.44,298.5L178.19,299.0L177.94,304.1L177.69,309.2L177.44,314.3L177.19,319.5L176.94,327.1L176.69,334.7L176.44,342.1L176.19,349.8L175.94,362.2L175.69,374.6L175.44,390.3L175.19,406.4L174.94,407.7L174.69,408.5L174.44,408.9L174.19,409.3L173.94,409.8L173.69,410.3L173.44,410.8L173.19,411.2L172.94,411.0L172.69,410.3L172.44,407.3L172.19,404.2L171.94,401.2L171.69,398.8L171.44,398.5L171.19,398.5L170.94,398.6L170.69,398.6L170.44,398.7L170.19,398.7L169.94,398.4L169.69,398.2L169.44,397.8L169.19,397.3L168.94,396.7L168.69,396.2L168.44,395.7L168.19,395.2L167.94,391.2L167.69,386.9L167.44,382.6L167.19,378.2L166.94,373.9L166.69,371.3L166.44,370.9L166.19,370.8L165.94,370.8L165.69,370.9L165.44,371.1L165.19,371.3L164.94,371.4L164.69,371.6L164.44,371.7L164.19,371.9L163.94,372.1L163.69,372.2L163.44,372.0L163.19,371.7L162.94,371.5L162.69,371.3L162.44,371.1L162.19,371.4L161.94,371.7L161.69,372.0L161.44,372.5L161.19,375.0L160.94,380.1L160.69,385.2L160.44,390.3L160.19,393.2L159.94,393.6L159.69,393.9L159.44,394.0L159.19,394.2L158.94,394.3L158.69,394.4L158.44,394.4L158.19,393.2L157.94,388.0L157.69,382.7L157.44,377.5L157.19,372.2L156.94,367.1L156.69,357.3L156.44,345.3L156.19,339.0L155.94,332.7L155.69,326.2L155.44,320.0L155.19,316.3L154.94,312.6L154.69,309.0L154.44,305.1L154.19,299.9L153.94,294.8L153.69,292.4L153.44,291.0L153.19,290.6L152.94,290.3L152.69,290.3L152.44,290.3L152.19,290.3L151.94,290.4L151.69,290.4L151.44,290.5L151.19,290.7L150.94,290.9L150.69,291.2L150.44,292.2L150.19,296.3L149.94,300.0L149.69,299.9L149.44,299.9L149.19,300.2L148.94,301.5L148.69,302.7L148.44,303.8L148.19,303.9L147.94,303.9L147.69,303.9L147.44,303.8L147.19,303.8L146.94,303.5L146.69,303.4L146.44,303.4L146.19,303.3L145.94,303.3L145.69,303.3L145.44,303.2L145.19,302.7L144.94,302.0L144.69,301.4L144.44,300.8L144.19,300.2L143.94,299.5L143.69,299.1L143.44,298.9L143.19,298.7L142.94,298.6L142.69,297.7L142.44,293.9L142.19,291.4L141.94,289.7L141.69,288.1L141.44,287.9L141.19,288.0L140.94,288.2L140.69,288.4L140.44,288.6L140.19,288.6L139.94,288.3L139.69,288.1L139.44,287.9L139.19,287.8L138.94,288.1L138.69,290.7L138.44,299.6L138.19,303.5L137.94,307.4L137.69,311.3L137.44,314.7L137.19,318.1L136.94,322.2L136.69,327.0L136.44,331.9L136.19,336.9L135.94,341.9L135.69,347.4L135.44,353.1L135.19,358.8L134.94,364.7L134.69,370.6L134.44,375.6L134.19,376.3L133.94,377.0L133.69,377.4L133.44,377.8L133.19,378.8L132.94,379.9L132.69,380.9L132.44,382.0L132.19,383.4L131.94,384.7L131.69,386.1L131.44,389.6L131.19,399.6L130.94,400.6L130.69,399.1L130.44,397.5L130.19,396.0L129.94,394.6L129.69,393.5L129.44,392.3L129.19,391.2L128.94,390.1L128.69,388.9L128.44,388.2L128.19,387.5L127.94,387.4L127.69,387.6L127.44,387.8L127.19,387.7L126.94,387.6L126.69,387.4L126.44,387.4L126.19,387.3L125.94,387.4L125.69,387.4L125.44,387.5L125.19,389.4L124.94,391.2L124.69,393.1L124.44,395.3L124.19,397.6L123.94,399.9L123.69,402.2L123.44,403.8L123.19,404.1L122.94,404.5L122.69,404.9L122.44,405.3L122.19,405.7L121.94,406.2L121.69,406.8L121.44,407.4L121.19,407.9L120.94,408.5L120.69,408.1L120.44,405.5L120.19,396.7L119.94,387.9L119.69,379.2L119.44,375.8L119.19,372.3L118.94,368.9L118.69,365.4L118.44,360.9L118.19,353.3L117.94,345.9L117.69,338.8L117.44,335.3L117.19,331.8L116.94,328.3L116.69,324.8L116.44,321.2L116.19,317.6L115.94,288.4L115.69,282.4L115.44,276.4L115.19,270.5L114.94,266.4L114.69,263.0L114.44,259.6L114.19,256.2L113.94,255.1L113.69,254.8L113.44,254.4L113.19,254.1L112.94,253.6L112.69,252.8L112.44,252.0L112.19,251.3L111.94,250.6L111.69,250.2L111.44,250.1L111.19,250.0L110.94,249.9L110.69,249.9L110.44,250.0L110.19,250.4L109.94,250.8L109.69,251.5L109.44,252.1L109.19,253.0L108.94,253.7L108.69,254.4L108.44,255.0L108.19,255.7L107.94,259.1L107.69,265.6L107.44,271.9L107.19,278.3L106.94,284.6L106.69,287.6L106.44,289.3L106.19,291.2L105.94,293.0L105.69,294.9L105.44,296.8L105.19,297.9Z" fill="#04206a" stroke="#04206a" stroke-width="2.8" stroke-linejoin="round" stroke-linecap="round"/>
<path d="M120.44,405.5V410.8M127.19,351.5V349.1M130.69,399.1V405.5M141.94,289.7V303.5M147.19,303.8V304.5M158.69,394.4V395.8M173.44,410.8V411.8M180.44,225.9V223.2M186.69,307.0V308.4M189.69,240.4V239.2M194.94,318.9V321.6M216.94,445.8V448.1M223.44,436.8V437.6M233.44,427.2V434.5M237.19,329.5V327.2M237.44,328.8V327.2M237.69,328.2V327.2M241.69,327.3V303.5M252.69,456.2V462.0M270.19,314.5V315.0M270.44,309.3V315.0M270.69,304.3V315.0M270.94,299.3V315.0M271.19,298.9V315.0M274.69,250.3V248.4M299.44,359.3V363.4M300.44,327.7V326.8M303.44,350.6V355.5M308.44,309.5V307.6M313.44,341.4V346.2M318.44,332.8V338.4M318.44,297.2V295.0M327.94,384.7V388.8M347.19,312.3V309.7M358.19,400.2V401.1M364.69,340.2V338.5M373.19,444.2V454.6M389.94,268.9V267.7M393.94,310.9V319.0M398.19,316.1V332.6M401.94,293.3V291.1M408.69,365.4V369.2M417.69,283.9V281.3M427.69,390.4V391.8M439.69,309.5V308.0M445.44,363.1V364.2M447.69,335.6V333.9M452.19,359.1V363.3M460.44,327.8V330.8M465.44,308.4V302.3M468.44,328.0V331.9M475.44,325.7V326.8M484.19,301.3V300.4M489.69,347.2V358.3M492.19,312.0V309.1M497.19,313.1V309.9M501.44,317.2V316.8M501.69,319.2V316.8M501.94,321.2V316.8M502.19,323.2V316.8M502.44,325.2V316.8M506.69,380.2V382.6M512.19,336.5V335.7M515.69,362.6V374.2M521.94,342.7V343.5M530.19,312.0V313.0M530.44,311.1V313.0M530.69,310.7V313.0M530.94,310.3V313.0M532.94,289.0V288.1M541.94,290.6V289.0M544.94,322.9V324.8M550.69,290.9V289.1M572.19,380.3V382.9M577.44,312.6V294.0M577.69,308.0V294.0M577.94,303.4V294.0M578.19,298.8V294.0M578.69,294.6V294.0M578.94,296.5V294.0M579.19,298.5V294.0M579.44,300.1V294.0M580.69,341.4V344.4M583.94,295.1V292.1M596.44,388.2V390.2M612.94,250.1V248.0M630.94,295.1V293.6M641.69,401.4V402.9M643.19,356.8V356.2M647.19,404.2V406.3M657.94,327.3V329.4M660.44,269.5V268.6M667.19,341.0V348.4M675.19,259.9V258.5M680.44,263.1V261.2M684.44,350.5V351.2M691.69,327.7V324.5M695.94,400.0V406.9M708.19,256.9V253.2M709.44,302.0V302.8M709.69,301.1V302.8M709.94,300.1V302.8M710.19,299.6V302.8M712.19,256.6V256.1M715.19,321.6V328.5" fill="none" stroke="#04206a" stroke-width="2.8" stroke-linecap="round"/>
<line x1="102.6" y1="249.3" x2="717.8" y2="249.3" stroke="#0d9fe0" stroke-width="2.8"/>
<line x1="102.6" y1="433.9" x2="717.4" y2="433.9" stroke="#0d9fe0" stroke-width="2.8"/>
<line x1="315.2" y1="117.6" x2="353.4" y2="117.6" stroke="#04206a" stroke-width="3.3" stroke-linecap="round"/>
<text x="357.5" y="123.2" font-size="17" fill="#2a2a2a" textLength="109.1" lengthAdjust="spacingAndGlyphs">Semiconductors</text><text x="471.4" y="123.2" font-size="17" fill="#2a2a2a" textLength="36.8" lengthAdjust="spacingAndGlyphs">(SOX)</text><text x="514.9" y="123.2" font-size="17" fill="#2a2a2a" textLength="11.4" lengthAdjust="spacingAndGlyphs">%</text><text x="530.8" y="123.2" font-size="17" fill="#2a2a2a" textLength="62.2" lengthAdjust="spacingAndGlyphs">deviation</text><text x="597.8" y="123.2" font-size="17" fill="#2a2a2a" textLength="31.8" lengthAdjust="spacingAndGlyphs">from</text><text x="634.1" y="123.2" font-size="17" fill="#2a2a2a" textLength="56.4" lengthAdjust="spacingAndGlyphs">200dma</text>
<ellipse cx="717.4" cy="247.8" rx="13.2" ry="16.2" fill="none" stroke="#c10f30" stroke-width="2.4"/>
<text x="43.3" y="543.2" font-size="18" font-weight="bold" fill="#000" textLength="56.4" lengthAdjust="spacingAndGlyphs">Source:</text><text x="104.7" y="543.2" font-size="18" fill="#262626" textLength="31.2" lengthAdjust="spacingAndGlyphs">BofA</text><text x="142.4" y="543.2" font-size="18" fill="#262626" textLength="44.8" lengthAdjust="spacingAndGlyphs">Global</text><text x="192.8" y="543.2" font-size="18" fill="#262626" textLength="78.0" lengthAdjust="spacingAndGlyphs">Investment</text><text x="276.8" y="543.2" font-size="18" fill="#262626" textLength="61.4" lengthAdjust="spacingAndGlyphs">Strategy,</text><text x="343.7" y="543.2" font-size="18" fill="#262626" textLength="79.1" lengthAdjust="spacingAndGlyphs">Bloomberg</text>
<text x="568.8" y="569.1" font-size="19" fill="#7a7b7e" textLength="31.2" lengthAdjust="spacingAndGlyphs">BofA</text><text x="606.5" y="569.1" font-size="19" fill="#7a7b7e" textLength="56.4" lengthAdjust="spacingAndGlyphs">GLOBAL</text><text x="669.4" y="569.1" font-size="19" fill="#7a7b7e" textLength="75.1" lengthAdjust="spacingAndGlyphs">RESEARCH</text>
</svg>
</body></html>
